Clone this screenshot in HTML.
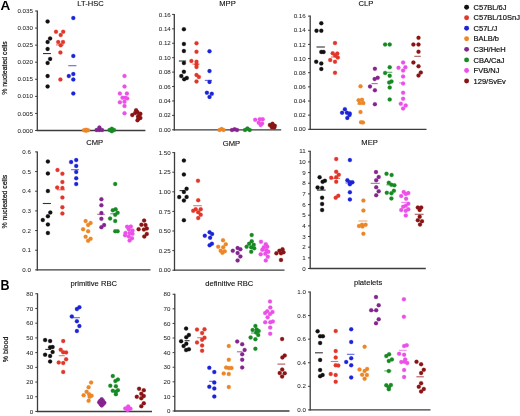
<!DOCTYPE html><html><head><meta charset="utf-8"><style>html,body{margin:0;padding:0;background:#fff;}svg{display:block;will-change:transform;}text{font-family:"Liberation Sans",sans-serif;}</style></head><body>
<svg width="520" height="416" viewBox="0 0 520 416">
<rect width="520" height="416" fill="#fff"/>
<text transform="translate(0.5,9.9) scale(1.08,1)" font-size="12.5" font-weight="bold" fill="#000">A</text>
<text transform="translate(0.5,289.8) scale(1.0,1.1)" font-size="12.5" font-weight="bold" fill="#000">B</text>
<text transform="translate(6.9,68) rotate(-90)" text-anchor="middle" font-size="6.9" fill="#111" stroke="#111" stroke-width="0.2">% nucleated cells</text>
<text transform="translate(6.9,201.7) rotate(-90)" text-anchor="middle" font-size="6.9" fill="#111" stroke="#111" stroke-width="0.2">% nucleated cells</text>
<text transform="translate(7.6,349.5) rotate(-90)" text-anchor="middle" font-size="7.1" fill="#111" stroke="#111" stroke-width="0.2">% blood</text>
<line x1="37.3" y1="10.5" x2="37.3" y2="131.1" stroke="#3c3c3c" stroke-width="1.3"/>
<line x1="36.699999999999996" y1="130.5" x2="145.4" y2="130.5" stroke="#3c3c3c" stroke-width="1.3"/>
<line x1="35.099999999999994" y1="130.50" x2="37.3" y2="130.50" stroke="#3c3c3c" stroke-width="1"/>
<text x="32.90" y="132.60" text-anchor="end" font-size="6.2" fill="#222" stroke="#222" stroke-width="0.03">0.000</text>
<line x1="35.099999999999994" y1="113.43" x2="37.3" y2="113.43" stroke="#3c3c3c" stroke-width="1"/>
<text x="32.90" y="115.53" text-anchor="end" font-size="6.2" fill="#222" stroke="#222" stroke-width="0.03">0.005</text>
<line x1="35.099999999999994" y1="96.36" x2="37.3" y2="96.36" stroke="#3c3c3c" stroke-width="1"/>
<text x="32.90" y="98.46" text-anchor="end" font-size="6.2" fill="#222" stroke="#222" stroke-width="0.03">0.010</text>
<line x1="35.099999999999994" y1="79.29" x2="37.3" y2="79.29" stroke="#3c3c3c" stroke-width="1"/>
<text x="32.90" y="81.39" text-anchor="end" font-size="6.2" fill="#222" stroke="#222" stroke-width="0.03">0.015</text>
<line x1="35.099999999999994" y1="62.21" x2="37.3" y2="62.21" stroke="#3c3c3c" stroke-width="1"/>
<text x="32.90" y="64.31" text-anchor="end" font-size="6.2" fill="#222" stroke="#222" stroke-width="0.03">0.020</text>
<line x1="35.099999999999994" y1="45.14" x2="37.3" y2="45.14" stroke="#3c3c3c" stroke-width="1"/>
<text x="32.90" y="47.24" text-anchor="end" font-size="6.2" fill="#222" stroke="#222" stroke-width="0.03">0.025</text>
<line x1="35.099999999999994" y1="28.07" x2="37.3" y2="28.07" stroke="#3c3c3c" stroke-width="1"/>
<text x="32.90" y="30.17" text-anchor="end" font-size="6.2" fill="#222" stroke="#222" stroke-width="0.03">0.030</text>
<line x1="35.099999999999994" y1="11.00" x2="37.3" y2="11.00" stroke="#3c3c3c" stroke-width="1"/>
<text x="32.90" y="13.10" text-anchor="end" font-size="6.2" fill="#222" stroke="#222" stroke-width="0.03">0.035</text>
<text x="90.5" y="6.0" text-anchor="middle" font-size="7.6" fill="#111" stroke="#111" stroke-width="0.12">LT-HSC</text>
<circle cx="47.6" cy="21.4" r="2.0" fill="#111111" stroke="#111111" stroke-width="0.8" stroke-opacity="0.3"/>
<circle cx="50.1" cy="38.45" r="2.0" fill="#111111" stroke="#111111" stroke-width="0.8" stroke-opacity="0.3"/>
<circle cx="47.6" cy="42" r="2.0" fill="#111111" stroke="#111111" stroke-width="0.8" stroke-opacity="0.3"/>
<circle cx="47.6" cy="48.9" r="2.0" fill="#111111" stroke="#111111" stroke-width="0.8" stroke-opacity="0.3"/>
<circle cx="50.1" cy="58.9" r="2.0" fill="#111111" stroke="#111111" stroke-width="0.8" stroke-opacity="0.3"/>
<circle cx="47.6" cy="62.9" r="2.0" fill="#111111" stroke="#111111" stroke-width="0.8" stroke-opacity="0.3"/>
<circle cx="47.6" cy="76.1" r="2.0" fill="#111111" stroke="#111111" stroke-width="0.8" stroke-opacity="0.3"/>
<circle cx="47.6" cy="86.4" r="2.0" fill="#111111" stroke="#111111" stroke-width="0.8" stroke-opacity="0.3"/>
<line x1="43" y1="53.55" x2="50.9" y2="53.55" stroke="#111111" stroke-width="1.1" stroke-opacity="0.85"/>
<circle cx="56" cy="31.7" r="2.0" fill="#e2362a" stroke="#e2362a" stroke-width="0.8" stroke-opacity="0.3"/>
<circle cx="63.2" cy="31.7" r="2.0" fill="#e2362a" stroke="#e2362a" stroke-width="0.8" stroke-opacity="0.3"/>
<circle cx="60.7" cy="35" r="2.0" fill="#e2362a" stroke="#e2362a" stroke-width="0.8" stroke-opacity="0.3"/>
<circle cx="58.2" cy="42" r="2.0" fill="#e2362a" stroke="#e2362a" stroke-width="0.8" stroke-opacity="0.3"/>
<circle cx="63" cy="42" r="2.0" fill="#e2362a" stroke="#e2362a" stroke-width="0.8" stroke-opacity="0.3"/>
<circle cx="60.7" cy="45.3" r="2.0" fill="#e2362a" stroke="#e2362a" stroke-width="0.8" stroke-opacity="0.3"/>
<circle cx="60.4" cy="52.45" r="2.0" fill="#e2362a" stroke="#e2362a" stroke-width="0.8" stroke-opacity="0.3"/>
<circle cx="60.4" cy="79.5" r="2.0" fill="#e2362a" stroke="#e2362a" stroke-width="0.8" stroke-opacity="0.3"/>
<line x1="56" y1="44.9" x2="64" y2="44.9" stroke="#e2362a" stroke-width="1.1" stroke-opacity="0.7"/>
<circle cx="73.3" cy="18.06" r="2.0" fill="#1c24d8" stroke="#1c24d8" stroke-width="0.8" stroke-opacity="0.3"/>
<circle cx="73.3" cy="55.9" r="2.0" fill="#1c24d8" stroke="#1c24d8" stroke-width="0.8" stroke-opacity="0.3"/>
<circle cx="73.3" cy="74.05" r="2.0" fill="#1c24d8" stroke="#1c24d8" stroke-width="0.8" stroke-opacity="0.3"/>
<circle cx="68.8" cy="76.1" r="2.0" fill="#1c24d8" stroke="#1c24d8" stroke-width="0.8" stroke-opacity="0.3"/>
<circle cx="73.3" cy="79.5" r="2.0" fill="#1c24d8" stroke="#1c24d8" stroke-width="0.8" stroke-opacity="0.3"/>
<circle cx="73.3" cy="93.4" r="2.0" fill="#1c24d8" stroke="#1c24d8" stroke-width="0.8" stroke-opacity="0.3"/>
<line x1="68.3" y1="65.7" x2="76.4" y2="65.7" stroke="#1c24d8" stroke-width="1.1" stroke-opacity="0.7"/>
<circle cx="84" cy="130.2" r="2.0" fill="#ec8626" stroke="#ec8626" stroke-width="0.8" stroke-opacity="0.3"/>
<circle cx="86" cy="129.7" r="2.0" fill="#ec8626" stroke="#ec8626" stroke-width="0.8" stroke-opacity="0.3"/>
<circle cx="86" cy="130.7" r="2.0" fill="#ec8626" stroke="#ec8626" stroke-width="0.8" stroke-opacity="0.3"/>
<circle cx="88" cy="130.2" r="2.0" fill="#ec8626" stroke="#ec8626" stroke-width="0.8" stroke-opacity="0.3"/>
<circle cx="96.6" cy="130" r="2.0" fill="#84248e" stroke="#84248e" stroke-width="0.8" stroke-opacity="0.3"/>
<circle cx="99.3" cy="130" r="2.0" fill="#84248e" stroke="#84248e" stroke-width="0.8" stroke-opacity="0.3"/>
<circle cx="102" cy="130" r="2.0" fill="#84248e" stroke="#84248e" stroke-width="0.8" stroke-opacity="0.3"/>
<circle cx="99.4" cy="127.6" r="2.0" fill="#84248e" stroke="#84248e" stroke-width="0.8" stroke-opacity="0.3"/>
<circle cx="109.5" cy="130" r="2.0" fill="#188a24" stroke="#188a24" stroke-width="0.8" stroke-opacity="0.3"/>
<circle cx="111.8" cy="128.8" r="2.0" fill="#188a24" stroke="#188a24" stroke-width="0.8" stroke-opacity="0.3"/>
<circle cx="114" cy="130" r="2.0" fill="#188a24" stroke="#188a24" stroke-width="0.8" stroke-opacity="0.3"/>
<circle cx="111.8" cy="131.2" r="2.0" fill="#188a24" stroke="#188a24" stroke-width="0.8" stroke-opacity="0.3"/>
<circle cx="124.5" cy="75.9" r="2.0" fill="#ec50e8" stroke="#ec50e8" stroke-width="0.8" stroke-opacity="0.3"/>
<circle cx="124.5" cy="86.5" r="2.0" fill="#ec50e8" stroke="#ec50e8" stroke-width="0.8" stroke-opacity="0.3"/>
<circle cx="119.9" cy="93.5" r="2.0" fill="#ec50e8" stroke="#ec50e8" stroke-width="0.8" stroke-opacity="0.3"/>
<circle cx="126.9" cy="93.5" r="2.0" fill="#ec50e8" stroke="#ec50e8" stroke-width="0.8" stroke-opacity="0.3"/>
<circle cx="122.5" cy="97.7" r="2.0" fill="#ec50e8" stroke="#ec50e8" stroke-width="0.8" stroke-opacity="0.3"/>
<circle cx="125.2" cy="97.7" r="2.0" fill="#ec50e8" stroke="#ec50e8" stroke-width="0.8" stroke-opacity="0.3"/>
<circle cx="127.2" cy="98.4" r="2.0" fill="#ec50e8" stroke="#ec50e8" stroke-width="0.8" stroke-opacity="0.3"/>
<circle cx="119.9" cy="102.3" r="2.0" fill="#ec50e8" stroke="#ec50e8" stroke-width="0.8" stroke-opacity="0.3"/>
<circle cx="124.5" cy="101.7" r="2.0" fill="#ec50e8" stroke="#ec50e8" stroke-width="0.8" stroke-opacity="0.3"/>
<circle cx="124.5" cy="105.9" r="2.0" fill="#ec50e8" stroke="#ec50e8" stroke-width="0.8" stroke-opacity="0.3"/>
<circle cx="124.5" cy="113.3" r="2.0" fill="#ec50e8" stroke="#ec50e8" stroke-width="0.8" stroke-opacity="0.3"/>
<circle cx="136.1" cy="110.25" r="2.0" fill="#8a1414" stroke="#8a1414" stroke-width="0.8" stroke-opacity="0.3"/>
<circle cx="132.25" cy="115.05" r="2.0" fill="#8a1414" stroke="#8a1414" stroke-width="0.8" stroke-opacity="0.3"/>
<circle cx="140.4" cy="113.85" r="2.0" fill="#8a1414" stroke="#8a1414" stroke-width="0.8" stroke-opacity="0.3"/>
<circle cx="135.1" cy="113.1" r="2.0" fill="#8a1414" stroke="#8a1414" stroke-width="0.8" stroke-opacity="0.3"/>
<circle cx="138" cy="116.5" r="2.0" fill="#8a1414" stroke="#8a1414" stroke-width="0.8" stroke-opacity="0.3"/>
<circle cx="140.4" cy="117.9" r="2.0" fill="#8a1414" stroke="#8a1414" stroke-width="0.8" stroke-opacity="0.3"/>
<circle cx="137.5" cy="120.3" r="2.0" fill="#8a1414" stroke="#8a1414" stroke-width="0.8" stroke-opacity="0.3"/>
<circle cx="137.5" cy="112.3" r="2.0" fill="#8a1414" stroke="#8a1414" stroke-width="0.8" stroke-opacity="0.3"/>
<circle cx="139.2" cy="115.5" r="2.0" fill="#8a1414" stroke="#8a1414" stroke-width="0.8" stroke-opacity="0.3"/>
<circle cx="138.6" cy="118.6" r="2.0" fill="#8a1414" stroke="#8a1414" stroke-width="0.8" stroke-opacity="0.3"/>
<line x1="174.3" y1="13.9" x2="174.3" y2="130.4" stroke="#3c3c3c" stroke-width="1.3"/>
<line x1="173.70000000000002" y1="129.8" x2="281.2" y2="129.8" stroke="#3c3c3c" stroke-width="1.3"/>
<line x1="172.10000000000002" y1="129.80" x2="174.3" y2="129.80" stroke="#3c3c3c" stroke-width="1"/>
<text x="170.80" y="131.90" text-anchor="end" font-size="6.2" fill="#222" stroke="#222" stroke-width="0.03">0.00</text>
<line x1="172.10000000000002" y1="115.38" x2="174.3" y2="115.38" stroke="#3c3c3c" stroke-width="1"/>
<text x="170.80" y="117.48" text-anchor="end" font-size="6.2" fill="#222" stroke="#222" stroke-width="0.03">0.02</text>
<line x1="172.10000000000002" y1="100.95" x2="174.3" y2="100.95" stroke="#3c3c3c" stroke-width="1"/>
<text x="170.80" y="103.05" text-anchor="end" font-size="6.2" fill="#222" stroke="#222" stroke-width="0.03">0.04</text>
<line x1="172.10000000000002" y1="86.53" x2="174.3" y2="86.53" stroke="#3c3c3c" stroke-width="1"/>
<text x="170.80" y="88.62" text-anchor="end" font-size="6.2" fill="#222" stroke="#222" stroke-width="0.03">0.06</text>
<line x1="172.10000000000002" y1="72.10" x2="174.3" y2="72.10" stroke="#3c3c3c" stroke-width="1"/>
<text x="170.80" y="74.20" text-anchor="end" font-size="6.2" fill="#222" stroke="#222" stroke-width="0.03">0.08</text>
<line x1="172.10000000000002" y1="57.68" x2="174.3" y2="57.68" stroke="#3c3c3c" stroke-width="1"/>
<text x="170.80" y="59.78" text-anchor="end" font-size="6.2" fill="#222" stroke="#222" stroke-width="0.03">0.10</text>
<line x1="172.10000000000002" y1="43.25" x2="174.3" y2="43.25" stroke="#3c3c3c" stroke-width="1"/>
<text x="170.80" y="45.35" text-anchor="end" font-size="6.2" fill="#222" stroke="#222" stroke-width="0.03">0.12</text>
<line x1="172.10000000000002" y1="28.83" x2="174.3" y2="28.83" stroke="#3c3c3c" stroke-width="1"/>
<text x="170.80" y="30.93" text-anchor="end" font-size="6.2" fill="#222" stroke="#222" stroke-width="0.03">0.14</text>
<line x1="172.10000000000002" y1="14.40" x2="174.3" y2="14.40" stroke="#3c3c3c" stroke-width="1"/>
<text x="170.80" y="16.50" text-anchor="end" font-size="6.2" fill="#222" stroke="#222" stroke-width="0.03">0.16</text>
<text x="227.5" y="6.3" text-anchor="middle" font-size="7.6" fill="#111" stroke="#111" stroke-width="0.12">MPP</text>
<circle cx="183.9" cy="29.2" r="2.0" fill="#111111" stroke="#111111" stroke-width="0.8" stroke-opacity="0.3"/>
<circle cx="183.9" cy="43.9" r="2.0" fill="#111111" stroke="#111111" stroke-width="0.8" stroke-opacity="0.3"/>
<circle cx="183.9" cy="51.1" r="2.0" fill="#111111" stroke="#111111" stroke-width="0.8" stroke-opacity="0.3"/>
<circle cx="183.9" cy="63.1" r="2.0" fill="#111111" stroke="#111111" stroke-width="0.8" stroke-opacity="0.3"/>
<circle cx="183.9" cy="71.8" r="2.0" fill="#111111" stroke="#111111" stroke-width="0.8" stroke-opacity="0.3"/>
<circle cx="181.3" cy="76.1" r="2.0" fill="#111111" stroke="#111111" stroke-width="0.8" stroke-opacity="0.3"/>
<circle cx="184.2" cy="79.2" r="2.0" fill="#111111" stroke="#111111" stroke-width="0.8" stroke-opacity="0.3"/>
<circle cx="186.8" cy="78" r="2.0" fill="#111111" stroke="#111111" stroke-width="0.8" stroke-opacity="0.3"/>
<line x1="178.9" y1="61" x2="186.1" y2="61" stroke="#111111" stroke-width="1.1" stroke-opacity="0.85"/>
<circle cx="196.5" cy="43.2" r="2.0" fill="#e2362a" stroke="#e2362a" stroke-width="0.8" stroke-opacity="0.3"/>
<circle cx="196.5" cy="51.8" r="2.0" fill="#e2362a" stroke="#e2362a" stroke-width="0.8" stroke-opacity="0.3"/>
<circle cx="191.4" cy="60.9" r="2.0" fill="#e2362a" stroke="#e2362a" stroke-width="0.8" stroke-opacity="0.3"/>
<circle cx="196.5" cy="61.7" r="2.0" fill="#e2362a" stroke="#e2362a" stroke-width="0.8" stroke-opacity="0.3"/>
<circle cx="196.5" cy="64.4" r="2.0" fill="#e2362a" stroke="#e2362a" stroke-width="0.8" stroke-opacity="0.3"/>
<circle cx="196.5" cy="67" r="2.0" fill="#e2362a" stroke="#e2362a" stroke-width="0.8" stroke-opacity="0.3"/>
<circle cx="196.5" cy="75" r="2.0" fill="#e2362a" stroke="#e2362a" stroke-width="0.8" stroke-opacity="0.3"/>
<circle cx="198.9" cy="76.9" r="2.0" fill="#e2362a" stroke="#e2362a" stroke-width="0.8" stroke-opacity="0.3"/>
<circle cx="196.5" cy="81.4" r="2.0" fill="#e2362a" stroke="#e2362a" stroke-width="0.8" stroke-opacity="0.3"/>
<line x1="192.3" y1="64.1" x2="199.6" y2="64.1" stroke="#e2362a" stroke-width="1.1" stroke-opacity="0.7"/>
<circle cx="209.5" cy="51.3" r="2.0" fill="#1c24d8" stroke="#1c24d8" stroke-width="0.8" stroke-opacity="0.3"/>
<circle cx="209.5" cy="71.1" r="2.0" fill="#1c24d8" stroke="#1c24d8" stroke-width="0.8" stroke-opacity="0.3"/>
<circle cx="209.5" cy="81.9" r="2.0" fill="#1c24d8" stroke="#1c24d8" stroke-width="0.8" stroke-opacity="0.3"/>
<circle cx="206.9" cy="92.65" r="2.0" fill="#1c24d8" stroke="#1c24d8" stroke-width="0.8" stroke-opacity="0.3"/>
<circle cx="211.8" cy="93.8" r="2.0" fill="#1c24d8" stroke="#1c24d8" stroke-width="0.8" stroke-opacity="0.3"/>
<circle cx="209.5" cy="96.9" r="2.0" fill="#1c24d8" stroke="#1c24d8" stroke-width="0.8" stroke-opacity="0.3"/>
<line x1="204.8" y1="80.4" x2="212" y2="80.4" stroke="#1c24d8" stroke-width="1.1" stroke-opacity="0.7"/>
<circle cx="219.5" cy="130" r="2.0" fill="#ec8626" stroke="#ec8626" stroke-width="0.8" stroke-opacity="0.3"/>
<circle cx="221.6" cy="129" r="2.0" fill="#ec8626" stroke="#ec8626" stroke-width="0.8" stroke-opacity="0.3"/>
<circle cx="223.5" cy="130" r="2.0" fill="#ec8626" stroke="#ec8626" stroke-width="0.8" stroke-opacity="0.3"/>
<circle cx="232" cy="130" r="2.0" fill="#84248e" stroke="#84248e" stroke-width="0.8" stroke-opacity="0.3"/>
<circle cx="234.6" cy="129.3" r="2.0" fill="#84248e" stroke="#84248e" stroke-width="0.8" stroke-opacity="0.3"/>
<circle cx="237" cy="130" r="2.0" fill="#84248e" stroke="#84248e" stroke-width="0.8" stroke-opacity="0.3"/>
<circle cx="245" cy="130" r="2.0" fill="#188a24" stroke="#188a24" stroke-width="0.8" stroke-opacity="0.3"/>
<circle cx="247.4" cy="128.5" r="2.0" fill="#188a24" stroke="#188a24" stroke-width="0.8" stroke-opacity="0.3"/>
<circle cx="249.7" cy="130" r="2.0" fill="#188a24" stroke="#188a24" stroke-width="0.8" stroke-opacity="0.3"/>
<circle cx="255.2" cy="119.8" r="2.0" fill="#ec50e8" stroke="#ec50e8" stroke-width="0.8" stroke-opacity="0.3"/>
<circle cx="259.8" cy="119.2" r="2.0" fill="#ec50e8" stroke="#ec50e8" stroke-width="0.8" stroke-opacity="0.3"/>
<circle cx="262.7" cy="119.2" r="2.0" fill="#ec50e8" stroke="#ec50e8" stroke-width="0.8" stroke-opacity="0.3"/>
<circle cx="258.7" cy="122.7" r="2.0" fill="#ec50e8" stroke="#ec50e8" stroke-width="0.8" stroke-opacity="0.3"/>
<circle cx="262.1" cy="123.5" r="2.0" fill="#ec50e8" stroke="#ec50e8" stroke-width="0.8" stroke-opacity="0.3"/>
<circle cx="260.7" cy="125" r="2.0" fill="#ec50e8" stroke="#ec50e8" stroke-width="0.8" stroke-opacity="0.3"/>
<circle cx="269.9" cy="125" r="2.0" fill="#8a1414" stroke="#8a1414" stroke-width="0.8" stroke-opacity="0.3"/>
<circle cx="272.5" cy="123.8" r="2.0" fill="#8a1414" stroke="#8a1414" stroke-width="0.8" stroke-opacity="0.3"/>
<circle cx="274.8" cy="125.8" r="2.0" fill="#8a1414" stroke="#8a1414" stroke-width="0.8" stroke-opacity="0.3"/>
<circle cx="271.9" cy="127.3" r="2.0" fill="#8a1414" stroke="#8a1414" stroke-width="0.8" stroke-opacity="0.3"/>
<circle cx="274.2" cy="127.6" r="2.0" fill="#8a1414" stroke="#8a1414" stroke-width="0.8" stroke-opacity="0.3"/>
<line x1="310.2" y1="15.600000000000001" x2="310.2" y2="129.9" stroke="#3c3c3c" stroke-width="1.3"/>
<line x1="309.59999999999997" y1="129.3" x2="426.5" y2="129.3" stroke="#3c3c3c" stroke-width="1.3"/>
<line x1="308.0" y1="129.30" x2="310.2" y2="129.30" stroke="#3c3c3c" stroke-width="1"/>
<text x="305.70" y="131.40" text-anchor="end" font-size="6.2" fill="#222" stroke="#222" stroke-width="0.03">0.00</text>
<line x1="308.0" y1="115.15" x2="310.2" y2="115.15" stroke="#3c3c3c" stroke-width="1"/>
<text x="305.70" y="117.25" text-anchor="end" font-size="6.2" fill="#222" stroke="#222" stroke-width="0.03">0.02</text>
<line x1="308.0" y1="101.00" x2="310.2" y2="101.00" stroke="#3c3c3c" stroke-width="1"/>
<text x="305.70" y="103.10" text-anchor="end" font-size="6.2" fill="#222" stroke="#222" stroke-width="0.03">0.04</text>
<line x1="308.0" y1="86.85" x2="310.2" y2="86.85" stroke="#3c3c3c" stroke-width="1"/>
<text x="305.70" y="88.95" text-anchor="end" font-size="6.2" fill="#222" stroke="#222" stroke-width="0.03">0.06</text>
<line x1="308.0" y1="72.70" x2="310.2" y2="72.70" stroke="#3c3c3c" stroke-width="1"/>
<text x="305.70" y="74.80" text-anchor="end" font-size="6.2" fill="#222" stroke="#222" stroke-width="0.03">0.08</text>
<line x1="308.0" y1="58.55" x2="310.2" y2="58.55" stroke="#3c3c3c" stroke-width="1"/>
<text x="305.70" y="60.65" text-anchor="end" font-size="6.2" fill="#222" stroke="#222" stroke-width="0.03">0.10</text>
<line x1="308.0" y1="44.40" x2="310.2" y2="44.40" stroke="#3c3c3c" stroke-width="1"/>
<text x="305.70" y="46.50" text-anchor="end" font-size="6.2" fill="#222" stroke="#222" stroke-width="0.03">0.12</text>
<line x1="308.0" y1="30.25" x2="310.2" y2="30.25" stroke="#3c3c3c" stroke-width="1"/>
<text x="305.70" y="32.35" text-anchor="end" font-size="6.2" fill="#222" stroke="#222" stroke-width="0.03">0.14</text>
<line x1="308.0" y1="16.10" x2="310.2" y2="16.10" stroke="#3c3c3c" stroke-width="1"/>
<text x="305.70" y="18.20" text-anchor="end" font-size="6.2" fill="#222" stroke="#222" stroke-width="0.03">0.16</text>
<text x="366" y="6.3" text-anchor="middle" font-size="7.6" fill="#111" stroke="#111" stroke-width="0.12">CLP</text>
<circle cx="321.3" cy="23.3" r="2.0" fill="#111111" stroke="#111111" stroke-width="0.8" stroke-opacity="0.3"/>
<circle cx="316.5" cy="30.7" r="2.0" fill="#111111" stroke="#111111" stroke-width="0.8" stroke-opacity="0.3"/>
<circle cx="321.3" cy="30.7" r="2.0" fill="#111111" stroke="#111111" stroke-width="0.8" stroke-opacity="0.3"/>
<circle cx="321.3" cy="51.9" r="2.0" fill="#111111" stroke="#111111" stroke-width="0.8" stroke-opacity="0.3"/>
<circle cx="323.6" cy="51.9" r="2.0" fill="#111111" stroke="#111111" stroke-width="0.8" stroke-opacity="0.3"/>
<circle cx="316.2" cy="61.7" r="2.0" fill="#111111" stroke="#111111" stroke-width="0.8" stroke-opacity="0.3"/>
<circle cx="321.3" cy="63.4" r="2.0" fill="#111111" stroke="#111111" stroke-width="0.8" stroke-opacity="0.3"/>
<circle cx="321.3" cy="69" r="2.0" fill="#111111" stroke="#111111" stroke-width="0.8" stroke-opacity="0.3"/>
<line x1="316.5" y1="47" x2="324.9" y2="47" stroke="#111111" stroke-width="1.1" stroke-opacity="0.85"/>
<circle cx="335" cy="43.1" r="2.0" fill="#e2362a" stroke="#e2362a" stroke-width="0.8" stroke-opacity="0.3"/>
<circle cx="332.7" cy="53.3" r="2.0" fill="#e2362a" stroke="#e2362a" stroke-width="0.8" stroke-opacity="0.3"/>
<circle cx="337.3" cy="53.6" r="2.0" fill="#e2362a" stroke="#e2362a" stroke-width="0.8" stroke-opacity="0.3"/>
<circle cx="335.2" cy="55.6" r="2.0" fill="#e2362a" stroke="#e2362a" stroke-width="0.8" stroke-opacity="0.3"/>
<circle cx="337.8" cy="57.6" r="2.0" fill="#e2362a" stroke="#e2362a" stroke-width="0.8" stroke-opacity="0.3"/>
<circle cx="330.2" cy="60.1" r="2.0" fill="#e2362a" stroke="#e2362a" stroke-width="0.8" stroke-opacity="0.3"/>
<circle cx="335" cy="61.7" r="2.0" fill="#e2362a" stroke="#e2362a" stroke-width="0.8" stroke-opacity="0.3"/>
<circle cx="335" cy="72.8" r="2.0" fill="#e2362a" stroke="#e2362a" stroke-width="0.8" stroke-opacity="0.3"/>
<line x1="331" y1="57" x2="339" y2="57" stroke="#e2362a" stroke-width="1.1" stroke-opacity="0.7"/>
<circle cx="344.9" cy="109.2" r="2.0" fill="#1c24d8" stroke="#1c24d8" stroke-width="0.8" stroke-opacity="0.3"/>
<circle cx="342.1" cy="112.7" r="2.0" fill="#1c24d8" stroke="#1c24d8" stroke-width="0.8" stroke-opacity="0.3"/>
<circle cx="346.9" cy="112.7" r="2.0" fill="#1c24d8" stroke="#1c24d8" stroke-width="0.8" stroke-opacity="0.3"/>
<circle cx="349.7" cy="113.4" r="2.0" fill="#1c24d8" stroke="#1c24d8" stroke-width="0.8" stroke-opacity="0.3"/>
<circle cx="349.5" cy="114.9" r="2.0" fill="#1c24d8" stroke="#1c24d8" stroke-width="0.8" stroke-opacity="0.3"/>
<circle cx="347.3" cy="117.9" r="2.0" fill="#1c24d8" stroke="#1c24d8" stroke-width="0.8" stroke-opacity="0.3"/>
<circle cx="360.5" cy="86.3" r="2.0" fill="#ec8626" stroke="#ec8626" stroke-width="0.8" stroke-opacity="0.3"/>
<circle cx="358.6" cy="100.2" r="2.0" fill="#ec8626" stroke="#ec8626" stroke-width="0.8" stroke-opacity="0.3"/>
<circle cx="362" cy="99.7" r="2.0" fill="#ec8626" stroke="#ec8626" stroke-width="0.8" stroke-opacity="0.3"/>
<circle cx="359.9" cy="103" r="2.0" fill="#ec8626" stroke="#ec8626" stroke-width="0.8" stroke-opacity="0.3"/>
<circle cx="363.3" cy="103" r="2.0" fill="#ec8626" stroke="#ec8626" stroke-width="0.8" stroke-opacity="0.3"/>
<circle cx="360.5" cy="112.1" r="2.0" fill="#ec8626" stroke="#ec8626" stroke-width="0.8" stroke-opacity="0.3"/>
<circle cx="361" cy="122.2" r="2.0" fill="#ec8626" stroke="#ec8626" stroke-width="0.8" stroke-opacity="0.3"/>
<circle cx="363" cy="122.5" r="2.0" fill="#ec8626" stroke="#ec8626" stroke-width="0.8" stroke-opacity="0.3"/>
<line x1="357" y1="104" x2="365" y2="104" stroke="#ec8626" stroke-width="1.1" stroke-opacity="0.7"/>
<circle cx="374.9" cy="68.8" r="2.0" fill="#84248e" stroke="#84248e" stroke-width="0.8" stroke-opacity="0.3"/>
<circle cx="377.7" cy="77.8" r="2.0" fill="#84248e" stroke="#84248e" stroke-width="0.8" stroke-opacity="0.3"/>
<circle cx="374.6" cy="79.1" r="2.0" fill="#84248e" stroke="#84248e" stroke-width="0.8" stroke-opacity="0.3"/>
<circle cx="370" cy="86.5" r="2.0" fill="#84248e" stroke="#84248e" stroke-width="0.8" stroke-opacity="0.3"/>
<circle cx="374.9" cy="90.3" r="2.0" fill="#84248e" stroke="#84248e" stroke-width="0.8" stroke-opacity="0.3"/>
<circle cx="374.9" cy="104.2" r="2.0" fill="#84248e" stroke="#84248e" stroke-width="0.8" stroke-opacity="0.3"/>
<line x1="371.5" y1="83.6" x2="377.7" y2="83.6" stroke="#84248e" stroke-width="1.1" stroke-opacity="0.7"/>
<circle cx="385.1" cy="44.5" r="2.0" fill="#188a24" stroke="#188a24" stroke-width="0.8" stroke-opacity="0.3"/>
<circle cx="389.7" cy="44.5" r="2.0" fill="#188a24" stroke="#188a24" stroke-width="0.8" stroke-opacity="0.3"/>
<circle cx="389.7" cy="67.2" r="2.0" fill="#188a24" stroke="#188a24" stroke-width="0.8" stroke-opacity="0.3"/>
<circle cx="385.1" cy="72.9" r="2.0" fill="#188a24" stroke="#188a24" stroke-width="0.8" stroke-opacity="0.3"/>
<circle cx="389.7" cy="75.7" r="2.0" fill="#188a24" stroke="#188a24" stroke-width="0.8" stroke-opacity="0.3"/>
<circle cx="391.5" cy="81.4" r="2.0" fill="#188a24" stroke="#188a24" stroke-width="0.8" stroke-opacity="0.3"/>
<circle cx="389.2" cy="82.5" r="2.0" fill="#188a24" stroke="#188a24" stroke-width="0.8" stroke-opacity="0.3"/>
<circle cx="389.7" cy="87.5" r="2.0" fill="#188a24" stroke="#188a24" stroke-width="0.8" stroke-opacity="0.3"/>
<circle cx="389.7" cy="99.4" r="2.0" fill="#188a24" stroke="#188a24" stroke-width="0.8" stroke-opacity="0.3"/>
<line x1="386.9" y1="72.3" x2="392.3" y2="72.3" stroke="#188a24" stroke-width="1.1" stroke-opacity="0.7"/>
<circle cx="403.1" cy="62.5" r="2.0" fill="#ec50e8" stroke="#ec50e8" stroke-width="0.8" stroke-opacity="0.3"/>
<circle cx="398.5" cy="67.8" r="2.0" fill="#ec50e8" stroke="#ec50e8" stroke-width="0.8" stroke-opacity="0.3"/>
<circle cx="405.4" cy="67.2" r="2.0" fill="#ec50e8" stroke="#ec50e8" stroke-width="0.8" stroke-opacity="0.3"/>
<circle cx="403.1" cy="70.6" r="2.0" fill="#ec50e8" stroke="#ec50e8" stroke-width="0.8" stroke-opacity="0.3"/>
<circle cx="403.1" cy="76.5" r="2.0" fill="#ec50e8" stroke="#ec50e8" stroke-width="0.8" stroke-opacity="0.3"/>
<circle cx="403.1" cy="83.4" r="2.0" fill="#ec50e8" stroke="#ec50e8" stroke-width="0.8" stroke-opacity="0.3"/>
<circle cx="403.1" cy="92.7" r="2.0" fill="#ec50e8" stroke="#ec50e8" stroke-width="0.8" stroke-opacity="0.3"/>
<circle cx="403.1" cy="98.8" r="2.0" fill="#ec50e8" stroke="#ec50e8" stroke-width="0.8" stroke-opacity="0.3"/>
<circle cx="400.8" cy="103.8" r="2.0" fill="#ec50e8" stroke="#ec50e8" stroke-width="0.8" stroke-opacity="0.3"/>
<circle cx="405.7" cy="105.4" r="2.0" fill="#ec50e8" stroke="#ec50e8" stroke-width="0.8" stroke-opacity="0.3"/>
<circle cx="403.1" cy="108.5" r="2.0" fill="#ec50e8" stroke="#ec50e8" stroke-width="0.8" stroke-opacity="0.3"/>
<line x1="399" y1="82.9" x2="403" y2="82.9" stroke="#ec50e8" stroke-width="1.1" stroke-opacity="0.7"/>
<circle cx="418.5" cy="37.8" r="2.0" fill="#8a1414" stroke="#8a1414" stroke-width="0.8" stroke-opacity="0.3"/>
<circle cx="413.4" cy="44.5" r="2.0" fill="#8a1414" stroke="#8a1414" stroke-width="0.8" stroke-opacity="0.3"/>
<circle cx="418.5" cy="44.5" r="2.0" fill="#8a1414" stroke="#8a1414" stroke-width="0.8" stroke-opacity="0.3"/>
<circle cx="418.5" cy="51.7" r="2.0" fill="#8a1414" stroke="#8a1414" stroke-width="0.8" stroke-opacity="0.3"/>
<circle cx="413.4" cy="62.5" r="2.0" fill="#8a1414" stroke="#8a1414" stroke-width="0.8" stroke-opacity="0.3"/>
<circle cx="418.5" cy="66.3" r="2.0" fill="#8a1414" stroke="#8a1414" stroke-width="0.8" stroke-opacity="0.3"/>
<circle cx="420.8" cy="72.5" r="2.0" fill="#8a1414" stroke="#8a1414" stroke-width="0.8" stroke-opacity="0.3"/>
<circle cx="418.5" cy="75.5" r="2.0" fill="#8a1414" stroke="#8a1414" stroke-width="0.8" stroke-opacity="0.3"/>
<line x1="414.3" y1="56.3" x2="420.8" y2="56.3" stroke="#8a1414" stroke-width="1.1" stroke-opacity="0.7"/>
<line x1="37.3" y1="151.4" x2="37.3" y2="270.5" stroke="#3c3c3c" stroke-width="1.3"/>
<line x1="36.699999999999996" y1="269.9" x2="150.5" y2="269.9" stroke="#3c3c3c" stroke-width="1.3"/>
<line x1="35.099999999999994" y1="269.90" x2="37.3" y2="269.90" stroke="#3c3c3c" stroke-width="1"/>
<text x="30.90" y="272.00" text-anchor="end" font-size="6.2" fill="#222" stroke="#222" stroke-width="0.03">0.0</text>
<line x1="35.099999999999994" y1="250.23" x2="37.3" y2="250.23" stroke="#3c3c3c" stroke-width="1"/>
<text x="30.90" y="252.33" text-anchor="end" font-size="6.2" fill="#222" stroke="#222" stroke-width="0.03">0.1</text>
<line x1="35.099999999999994" y1="230.57" x2="37.3" y2="230.57" stroke="#3c3c3c" stroke-width="1"/>
<text x="30.90" y="232.67" text-anchor="end" font-size="6.2" fill="#222" stroke="#222" stroke-width="0.03">0.2</text>
<line x1="35.099999999999994" y1="210.90" x2="37.3" y2="210.90" stroke="#3c3c3c" stroke-width="1"/>
<text x="30.90" y="213.00" text-anchor="end" font-size="6.2" fill="#222" stroke="#222" stroke-width="0.03">0.3</text>
<line x1="35.099999999999994" y1="191.23" x2="37.3" y2="191.23" stroke="#3c3c3c" stroke-width="1"/>
<text x="30.90" y="193.33" text-anchor="end" font-size="6.2" fill="#222" stroke="#222" stroke-width="0.03">0.4</text>
<line x1="35.099999999999994" y1="171.57" x2="37.3" y2="171.57" stroke="#3c3c3c" stroke-width="1"/>
<text x="30.90" y="173.67" text-anchor="end" font-size="6.2" fill="#222" stroke="#222" stroke-width="0.03">0.5</text>
<line x1="35.099999999999994" y1="151.90" x2="37.3" y2="151.90" stroke="#3c3c3c" stroke-width="1"/>
<text x="30.90" y="154.00" text-anchor="end" font-size="6.2" fill="#222" stroke="#222" stroke-width="0.03">0.6</text>
<text x="94.6" y="145.3" text-anchor="middle" font-size="7.6" fill="#111" stroke="#111" stroke-width="0.12">CMP</text>
<circle cx="47.9" cy="161.6" r="2.0" fill="#111111" stroke="#111111" stroke-width="0.8" stroke-opacity="0.3"/>
<circle cx="47.9" cy="173.4" r="2.0" fill="#111111" stroke="#111111" stroke-width="0.8" stroke-opacity="0.3"/>
<circle cx="47.9" cy="191.1" r="2.0" fill="#111111" stroke="#111111" stroke-width="0.8" stroke-opacity="0.3"/>
<circle cx="50.3" cy="212.5" r="2.0" fill="#111111" stroke="#111111" stroke-width="0.8" stroke-opacity="0.3"/>
<circle cx="47.9" cy="216.3" r="2.0" fill="#111111" stroke="#111111" stroke-width="0.8" stroke-opacity="0.3"/>
<circle cx="42.8" cy="220" r="2.0" fill="#111111" stroke="#111111" stroke-width="0.8" stroke-opacity="0.3"/>
<circle cx="47.9" cy="224.4" r="2.0" fill="#111111" stroke="#111111" stroke-width="0.8" stroke-opacity="0.3"/>
<circle cx="47.9" cy="233" r="2.0" fill="#111111" stroke="#111111" stroke-width="0.8" stroke-opacity="0.3"/>
<line x1="42.8" y1="203.5" x2="50.9" y2="203.5" stroke="#111111" stroke-width="1.1" stroke-opacity="0.85"/>
<circle cx="57.5" cy="170" r="2.0" fill="#e2362a" stroke="#e2362a" stroke-width="0.8" stroke-opacity="0.3"/>
<circle cx="62.4" cy="173.7" r="2.0" fill="#e2362a" stroke="#e2362a" stroke-width="0.8" stroke-opacity="0.3"/>
<circle cx="62.4" cy="182" r="2.0" fill="#e2362a" stroke="#e2362a" stroke-width="0.8" stroke-opacity="0.3"/>
<circle cx="57.2" cy="187.6" r="2.0" fill="#e2362a" stroke="#e2362a" stroke-width="0.8" stroke-opacity="0.3"/>
<circle cx="62.4" cy="188" r="2.0" fill="#e2362a" stroke="#e2362a" stroke-width="0.8" stroke-opacity="0.3"/>
<circle cx="62.4" cy="197.6" r="2.0" fill="#e2362a" stroke="#e2362a" stroke-width="0.8" stroke-opacity="0.3"/>
<circle cx="62.4" cy="207.2" r="2.0" fill="#e2362a" stroke="#e2362a" stroke-width="0.8" stroke-opacity="0.3"/>
<circle cx="62.4" cy="213.5" r="2.0" fill="#e2362a" stroke="#e2362a" stroke-width="0.8" stroke-opacity="0.3"/>
<line x1="57" y1="189.8" x2="65" y2="189.8" stroke="#e2362a" stroke-width="1.1" stroke-opacity="0.7"/>
<circle cx="71.1" cy="162.1" r="2.0" fill="#1c24d8" stroke="#1c24d8" stroke-width="0.8" stroke-opacity="0.3"/>
<circle cx="76.2" cy="160.1" r="2.0" fill="#1c24d8" stroke="#1c24d8" stroke-width="0.8" stroke-opacity="0.3"/>
<circle cx="76.2" cy="165.9" r="2.0" fill="#1c24d8" stroke="#1c24d8" stroke-width="0.8" stroke-opacity="0.3"/>
<circle cx="76.2" cy="172" r="2.0" fill="#1c24d8" stroke="#1c24d8" stroke-width="0.8" stroke-opacity="0.3"/>
<circle cx="76.2" cy="178.3" r="2.0" fill="#1c24d8" stroke="#1c24d8" stroke-width="0.8" stroke-opacity="0.3"/>
<circle cx="76.2" cy="184.1" r="2.0" fill="#1c24d8" stroke="#1c24d8" stroke-width="0.8" stroke-opacity="0.3"/>
<line x1="71.1" y1="169.7" x2="78.9" y2="169.7" stroke="#1c24d8" stroke-width="1.1" stroke-opacity="0.7"/>
<circle cx="85.6" cy="221.1" r="2.0" fill="#ec8626" stroke="#ec8626" stroke-width="0.8" stroke-opacity="0.3"/>
<circle cx="90.6" cy="222.9" r="2.0" fill="#ec8626" stroke="#ec8626" stroke-width="0.8" stroke-opacity="0.3"/>
<circle cx="88.1" cy="224.9" r="2.0" fill="#ec8626" stroke="#ec8626" stroke-width="0.8" stroke-opacity="0.3"/>
<circle cx="83.1" cy="229.2" r="2.0" fill="#ec8626" stroke="#ec8626" stroke-width="0.8" stroke-opacity="0.3"/>
<circle cx="88.1" cy="231.2" r="2.0" fill="#ec8626" stroke="#ec8626" stroke-width="0.8" stroke-opacity="0.3"/>
<circle cx="85.6" cy="236.7" r="2.0" fill="#ec8626" stroke="#ec8626" stroke-width="0.8" stroke-opacity="0.3"/>
<circle cx="90.6" cy="238.8" r="2.0" fill="#ec8626" stroke="#ec8626" stroke-width="0.8" stroke-opacity="0.3"/>
<circle cx="88.1" cy="240.8" r="2.0" fill="#ec8626" stroke="#ec8626" stroke-width="0.8" stroke-opacity="0.3"/>
<circle cx="101.4" cy="199.2" r="2.0" fill="#84248e" stroke="#84248e" stroke-width="0.8" stroke-opacity="0.3"/>
<circle cx="101.4" cy="205.3" r="2.0" fill="#84248e" stroke="#84248e" stroke-width="0.8" stroke-opacity="0.3"/>
<circle cx="101.4" cy="213.1" r="2.0" fill="#84248e" stroke="#84248e" stroke-width="0.8" stroke-opacity="0.3"/>
<circle cx="101.4" cy="218.8" r="2.0" fill="#84248e" stroke="#84248e" stroke-width="0.8" stroke-opacity="0.3"/>
<circle cx="104.1" cy="225.1" r="2.0" fill="#84248e" stroke="#84248e" stroke-width="0.8" stroke-opacity="0.3"/>
<circle cx="101.4" cy="227.2" r="2.0" fill="#84248e" stroke="#84248e" stroke-width="0.8" stroke-opacity="0.3"/>
<line x1="97.2" y1="214.3" x2="104.8" y2="214.3" stroke="#84248e" stroke-width="1.1" stroke-opacity="0.7"/>
<circle cx="115.2" cy="184" r="2.0" fill="#188a24" stroke="#188a24" stroke-width="0.8" stroke-opacity="0.3"/>
<circle cx="115.6" cy="209.3" r="2.0" fill="#188a24" stroke="#188a24" stroke-width="0.8" stroke-opacity="0.3"/>
<circle cx="112.8" cy="210.3" r="2.0" fill="#188a24" stroke="#188a24" stroke-width="0.8" stroke-opacity="0.3"/>
<circle cx="117.6" cy="212.8" r="2.0" fill="#188a24" stroke="#188a24" stroke-width="0.8" stroke-opacity="0.3"/>
<circle cx="115.2" cy="214.8" r="2.0" fill="#188a24" stroke="#188a24" stroke-width="0.8" stroke-opacity="0.3"/>
<circle cx="110.1" cy="218.6" r="2.0" fill="#188a24" stroke="#188a24" stroke-width="0.8" stroke-opacity="0.3"/>
<circle cx="115.2" cy="221.1" r="2.0" fill="#188a24" stroke="#188a24" stroke-width="0.8" stroke-opacity="0.3"/>
<circle cx="115.2" cy="231.2" r="2.0" fill="#188a24" stroke="#188a24" stroke-width="0.8" stroke-opacity="0.3"/>
<circle cx="117.6" cy="231.2" r="2.0" fill="#188a24" stroke="#188a24" stroke-width="0.8" stroke-opacity="0.3"/>
<line x1="110.3" y1="213.8" x2="116.4" y2="213.8" stroke="#188a24" stroke-width="1.1" stroke-opacity="0.7"/>
<circle cx="127.1" cy="226.7" r="2.0" fill="#ec50e8" stroke="#ec50e8" stroke-width="0.8" stroke-opacity="0.3"/>
<circle cx="130.8" cy="226.6" r="2.0" fill="#ec50e8" stroke="#ec50e8" stroke-width="0.8" stroke-opacity="0.3"/>
<circle cx="128.8" cy="229.2" r="2.0" fill="#ec50e8" stroke="#ec50e8" stroke-width="0.8" stroke-opacity="0.3"/>
<circle cx="132.5" cy="230.4" r="2.0" fill="#ec50e8" stroke="#ec50e8" stroke-width="0.8" stroke-opacity="0.3"/>
<circle cx="125.5" cy="232.9" r="2.0" fill="#ec50e8" stroke="#ec50e8" stroke-width="0.8" stroke-opacity="0.3"/>
<circle cx="129.6" cy="232.9" r="2.0" fill="#ec50e8" stroke="#ec50e8" stroke-width="0.8" stroke-opacity="0.3"/>
<circle cx="132.5" cy="233.7" r="2.0" fill="#ec50e8" stroke="#ec50e8" stroke-width="0.8" stroke-opacity="0.3"/>
<circle cx="125.1" cy="235.3" r="2.0" fill="#ec50e8" stroke="#ec50e8" stroke-width="0.8" stroke-opacity="0.3"/>
<circle cx="128.8" cy="236.5" r="2.0" fill="#ec50e8" stroke="#ec50e8" stroke-width="0.8" stroke-opacity="0.3"/>
<circle cx="132" cy="238.2" r="2.0" fill="#ec50e8" stroke="#ec50e8" stroke-width="0.8" stroke-opacity="0.3"/>
<circle cx="129.6" cy="240.6" r="2.0" fill="#ec50e8" stroke="#ec50e8" stroke-width="0.8" stroke-opacity="0.3"/>
<circle cx="144.1" cy="220.6" r="2.0" fill="#8a1414" stroke="#8a1414" stroke-width="0.8" stroke-opacity="0.3"/>
<circle cx="141.4" cy="224.7" r="2.0" fill="#8a1414" stroke="#8a1414" stroke-width="0.8" stroke-opacity="0.3"/>
<circle cx="145.5" cy="225.1" r="2.0" fill="#8a1414" stroke="#8a1414" stroke-width="0.8" stroke-opacity="0.3"/>
<circle cx="138.6" cy="229.2" r="2.0" fill="#8a1414" stroke="#8a1414" stroke-width="0.8" stroke-opacity="0.3"/>
<circle cx="146.8" cy="228.4" r="2.0" fill="#8a1414" stroke="#8a1414" stroke-width="0.8" stroke-opacity="0.3"/>
<circle cx="143.9" cy="229.6" r="2.0" fill="#8a1414" stroke="#8a1414" stroke-width="0.8" stroke-opacity="0.3"/>
<circle cx="146.8" cy="233.9" r="2.0" fill="#8a1414" stroke="#8a1414" stroke-width="0.8" stroke-opacity="0.3"/>
<circle cx="144.3" cy="236.5" r="2.0" fill="#8a1414" stroke="#8a1414" stroke-width="0.8" stroke-opacity="0.3"/>
<line x1="174.5" y1="152.1" x2="174.5" y2="270.8" stroke="#3c3c3c" stroke-width="1.3"/>
<line x1="173.9" y1="270.2" x2="284.5" y2="270.2" stroke="#3c3c3c" stroke-width="1.3"/>
<line x1="172.3" y1="270.20" x2="174.5" y2="270.20" stroke="#3c3c3c" stroke-width="1"/>
<text x="170.70" y="272.30" text-anchor="end" font-size="6.2" fill="#222" stroke="#222" stroke-width="0.03">0.00</text>
<line x1="172.3" y1="250.60" x2="174.5" y2="250.60" stroke="#3c3c3c" stroke-width="1"/>
<text x="170.70" y="252.70" text-anchor="end" font-size="6.2" fill="#222" stroke="#222" stroke-width="0.03">0.25</text>
<line x1="172.3" y1="231.00" x2="174.5" y2="231.00" stroke="#3c3c3c" stroke-width="1"/>
<text x="170.70" y="233.10" text-anchor="end" font-size="6.2" fill="#222" stroke="#222" stroke-width="0.03">0.50</text>
<line x1="172.3" y1="211.40" x2="174.5" y2="211.40" stroke="#3c3c3c" stroke-width="1"/>
<text x="170.70" y="213.50" text-anchor="end" font-size="6.2" fill="#222" stroke="#222" stroke-width="0.03">0.75</text>
<line x1="172.3" y1="191.80" x2="174.5" y2="191.80" stroke="#3c3c3c" stroke-width="1"/>
<text x="170.70" y="193.90" text-anchor="end" font-size="6.2" fill="#222" stroke="#222" stroke-width="0.03">1.00</text>
<line x1="172.3" y1="172.20" x2="174.5" y2="172.20" stroke="#3c3c3c" stroke-width="1"/>
<text x="170.70" y="174.30" text-anchor="end" font-size="6.2" fill="#222" stroke="#222" stroke-width="0.03">1.25</text>
<line x1="172.3" y1="152.60" x2="174.5" y2="152.60" stroke="#3c3c3c" stroke-width="1"/>
<text x="170.70" y="154.70" text-anchor="end" font-size="6.2" fill="#222" stroke="#222" stroke-width="0.03">1.50</text>
<text x="231.4" y="145.5" text-anchor="middle" font-size="7.6" fill="#111" stroke="#111" stroke-width="0.12">GMP</text>
<circle cx="183.9" cy="160.6" r="2.0" fill="#111111" stroke="#111111" stroke-width="0.8" stroke-opacity="0.3"/>
<circle cx="183.9" cy="174.4" r="2.0" fill="#111111" stroke="#111111" stroke-width="0.8" stroke-opacity="0.3"/>
<circle cx="186.6" cy="188.8" r="2.0" fill="#111111" stroke="#111111" stroke-width="0.8" stroke-opacity="0.3"/>
<circle cx="183.9" cy="191.9" r="2.0" fill="#111111" stroke="#111111" stroke-width="0.8" stroke-opacity="0.3"/>
<circle cx="179.2" cy="197.1" r="2.0" fill="#111111" stroke="#111111" stroke-width="0.8" stroke-opacity="0.3"/>
<circle cx="186.6" cy="196.9" r="2.0" fill="#111111" stroke="#111111" stroke-width="0.8" stroke-opacity="0.3"/>
<circle cx="183.9" cy="200.5" r="2.0" fill="#111111" stroke="#111111" stroke-width="0.8" stroke-opacity="0.3"/>
<circle cx="183.9" cy="220.2" r="2.0" fill="#111111" stroke="#111111" stroke-width="0.8" stroke-opacity="0.3"/>
<line x1="179.5" y1="190.6" x2="185.1" y2="190.6" stroke="#111111" stroke-width="1.1" stroke-opacity="0.85"/>
<circle cx="198" cy="180.8" r="2.0" fill="#e2362a" stroke="#e2362a" stroke-width="0.8" stroke-opacity="0.3"/>
<circle cx="198.2" cy="200.2" r="2.0" fill="#e2362a" stroke="#e2362a" stroke-width="0.8" stroke-opacity="0.3"/>
<circle cx="195.7" cy="209.3" r="2.0" fill="#e2362a" stroke="#e2362a" stroke-width="0.8" stroke-opacity="0.3"/>
<circle cx="193.2" cy="210.8" r="2.0" fill="#e2362a" stroke="#e2362a" stroke-width="0.8" stroke-opacity="0.3"/>
<circle cx="200.7" cy="209.3" r="2.0" fill="#e2362a" stroke="#e2362a" stroke-width="0.8" stroke-opacity="0.3"/>
<circle cx="198.2" cy="212.3" r="2.0" fill="#e2362a" stroke="#e2362a" stroke-width="0.8" stroke-opacity="0.3"/>
<circle cx="200.7" cy="214.8" r="2.0" fill="#e2362a" stroke="#e2362a" stroke-width="0.8" stroke-opacity="0.3"/>
<circle cx="198.2" cy="218.1" r="2.0" fill="#e2362a" stroke="#e2362a" stroke-width="0.8" stroke-opacity="0.3"/>
<line x1="193.2" y1="205.7" x2="201.8" y2="205.7" stroke="#e2362a" stroke-width="1.1" stroke-opacity="0.7"/>
<circle cx="209.6" cy="232.3" r="2.0" fill="#1c24d8" stroke="#1c24d8" stroke-width="0.8" stroke-opacity="0.3"/>
<circle cx="212.1" cy="234.1" r="2.0" fill="#1c24d8" stroke="#1c24d8" stroke-width="0.8" stroke-opacity="0.3"/>
<circle cx="204.8" cy="235.7" r="2.0" fill="#1c24d8" stroke="#1c24d8" stroke-width="0.8" stroke-opacity="0.3"/>
<circle cx="210.1" cy="237.7" r="2.0" fill="#1c24d8" stroke="#1c24d8" stroke-width="0.8" stroke-opacity="0.3"/>
<circle cx="211.9" cy="243.7" r="2.0" fill="#1c24d8" stroke="#1c24d8" stroke-width="0.8" stroke-opacity="0.3"/>
<circle cx="209.6" cy="245.3" r="2.0" fill="#1c24d8" stroke="#1c24d8" stroke-width="0.8" stroke-opacity="0.3"/>
<circle cx="223" cy="240.2" r="2.0" fill="#ec8626" stroke="#ec8626" stroke-width="0.8" stroke-opacity="0.3"/>
<circle cx="225.8" cy="244.2" r="2.0" fill="#ec8626" stroke="#ec8626" stroke-width="0.8" stroke-opacity="0.3"/>
<circle cx="218.2" cy="246.8" r="2.0" fill="#ec8626" stroke="#ec8626" stroke-width="0.8" stroke-opacity="0.3"/>
<circle cx="223.2" cy="247.3" r="2.0" fill="#ec8626" stroke="#ec8626" stroke-width="0.8" stroke-opacity="0.3"/>
<circle cx="220.7" cy="250.8" r="2.0" fill="#ec8626" stroke="#ec8626" stroke-width="0.8" stroke-opacity="0.3"/>
<circle cx="224.7" cy="251.3" r="2.0" fill="#ec8626" stroke="#ec8626" stroke-width="0.8" stroke-opacity="0.3"/>
<circle cx="222.4" cy="252.8" r="2.0" fill="#ec8626" stroke="#ec8626" stroke-width="0.8" stroke-opacity="0.3"/>
<circle cx="237.6" cy="248.1" r="2.0" fill="#84248e" stroke="#84248e" stroke-width="0.8" stroke-opacity="0.3"/>
<circle cx="240.4" cy="249.3" r="2.0" fill="#84248e" stroke="#84248e" stroke-width="0.8" stroke-opacity="0.3"/>
<circle cx="232.8" cy="250.8" r="2.0" fill="#84248e" stroke="#84248e" stroke-width="0.8" stroke-opacity="0.3"/>
<circle cx="237.6" cy="253.1" r="2.0" fill="#84248e" stroke="#84248e" stroke-width="0.8" stroke-opacity="0.3"/>
<circle cx="240.4" cy="256.4" r="2.0" fill="#84248e" stroke="#84248e" stroke-width="0.8" stroke-opacity="0.3"/>
<circle cx="237.6" cy="260.4" r="2.0" fill="#84248e" stroke="#84248e" stroke-width="0.8" stroke-opacity="0.3"/>
<circle cx="251.7" cy="235.1" r="2.0" fill="#188a24" stroke="#188a24" stroke-width="0.8" stroke-opacity="0.3"/>
<circle cx="251.7" cy="241.2" r="2.0" fill="#188a24" stroke="#188a24" stroke-width="0.8" stroke-opacity="0.3"/>
<circle cx="249.1" cy="243.7" r="2.0" fill="#188a24" stroke="#188a24" stroke-width="0.8" stroke-opacity="0.3"/>
<circle cx="253.7" cy="244.7" r="2.0" fill="#188a24" stroke="#188a24" stroke-width="0.8" stroke-opacity="0.3"/>
<circle cx="246.6" cy="246.7" r="2.0" fill="#188a24" stroke="#188a24" stroke-width="0.8" stroke-opacity="0.3"/>
<circle cx="251.2" cy="247.3" r="2.0" fill="#188a24" stroke="#188a24" stroke-width="0.8" stroke-opacity="0.3"/>
<circle cx="254.2" cy="248.3" r="2.0" fill="#188a24" stroke="#188a24" stroke-width="0.8" stroke-opacity="0.3"/>
<circle cx="251.2" cy="251.8" r="2.0" fill="#188a24" stroke="#188a24" stroke-width="0.8" stroke-opacity="0.3"/>
<circle cx="261" cy="241.7" r="2.0" fill="#ec50e8" stroke="#ec50e8" stroke-width="0.8" stroke-opacity="0.3"/>
<circle cx="265.8" cy="244.2" r="2.0" fill="#ec50e8" stroke="#ec50e8" stroke-width="0.8" stroke-opacity="0.3"/>
<circle cx="263.8" cy="247.3" r="2.0" fill="#ec50e8" stroke="#ec50e8" stroke-width="0.8" stroke-opacity="0.3"/>
<circle cx="267.3" cy="246.7" r="2.0" fill="#ec50e8" stroke="#ec50e8" stroke-width="0.8" stroke-opacity="0.3"/>
<circle cx="262.3" cy="249.8" r="2.0" fill="#ec50e8" stroke="#ec50e8" stroke-width="0.8" stroke-opacity="0.3"/>
<circle cx="266.3" cy="250.3" r="2.0" fill="#ec50e8" stroke="#ec50e8" stroke-width="0.8" stroke-opacity="0.3"/>
<circle cx="268.3" cy="251.8" r="2.0" fill="#ec50e8" stroke="#ec50e8" stroke-width="0.8" stroke-opacity="0.3"/>
<circle cx="260.7" cy="254.3" r="2.0" fill="#ec50e8" stroke="#ec50e8" stroke-width="0.8" stroke-opacity="0.3"/>
<circle cx="265.3" cy="253.8" r="2.0" fill="#ec50e8" stroke="#ec50e8" stroke-width="0.8" stroke-opacity="0.3"/>
<circle cx="267.8" cy="256.8" r="2.0" fill="#ec50e8" stroke="#ec50e8" stroke-width="0.8" stroke-opacity="0.3"/>
<circle cx="265.8" cy="260.4" r="2.0" fill="#ec50e8" stroke="#ec50e8" stroke-width="0.8" stroke-opacity="0.3"/>
<circle cx="282.5" cy="249.3" r="2.0" fill="#8a1414" stroke="#8a1414" stroke-width="0.8" stroke-opacity="0.3"/>
<circle cx="279.4" cy="250.8" r="2.0" fill="#8a1414" stroke="#8a1414" stroke-width="0.8" stroke-opacity="0.3"/>
<circle cx="276.4" cy="253.3" r="2.0" fill="#8a1414" stroke="#8a1414" stroke-width="0.8" stroke-opacity="0.3"/>
<circle cx="281" cy="253.3" r="2.0" fill="#8a1414" stroke="#8a1414" stroke-width="0.8" stroke-opacity="0.3"/>
<circle cx="283.5" cy="252.3" r="2.0" fill="#8a1414" stroke="#8a1414" stroke-width="0.8" stroke-opacity="0.3"/>
<circle cx="281" cy="259.9" r="2.0" fill="#8a1414" stroke="#8a1414" stroke-width="0.8" stroke-opacity="0.3"/>
<line x1="310.2" y1="150.75" x2="310.2" y2="269.1" stroke="#3c3c3c" stroke-width="1.3"/>
<line x1="309.59999999999997" y1="268.5" x2="425.8" y2="268.5" stroke="#3c3c3c" stroke-width="1.3"/>
<line x1="308.0" y1="268.50" x2="310.2" y2="268.50" stroke="#3c3c3c" stroke-width="1"/>
<text x="305.80" y="270.60" text-anchor="end" font-size="6.2" fill="#222" stroke="#222" stroke-width="0.03">0</text>
<line x1="308.0" y1="257.84" x2="310.2" y2="257.84" stroke="#3c3c3c" stroke-width="1"/>
<text x="305.80" y="259.94" text-anchor="end" font-size="6.2" fill="#222" stroke="#222" stroke-width="0.03">1</text>
<line x1="308.0" y1="247.18" x2="310.2" y2="247.18" stroke="#3c3c3c" stroke-width="1"/>
<text x="305.80" y="249.28" text-anchor="end" font-size="6.2" fill="#222" stroke="#222" stroke-width="0.03">2</text>
<line x1="308.0" y1="236.52" x2="310.2" y2="236.52" stroke="#3c3c3c" stroke-width="1"/>
<text x="305.80" y="238.62" text-anchor="end" font-size="6.2" fill="#222" stroke="#222" stroke-width="0.03">3</text>
<line x1="308.0" y1="225.86" x2="310.2" y2="225.86" stroke="#3c3c3c" stroke-width="1"/>
<text x="305.80" y="227.96" text-anchor="end" font-size="6.2" fill="#222" stroke="#222" stroke-width="0.03">4</text>
<line x1="308.0" y1="215.20" x2="310.2" y2="215.20" stroke="#3c3c3c" stroke-width="1"/>
<text x="305.80" y="217.30" text-anchor="end" font-size="6.2" fill="#222" stroke="#222" stroke-width="0.03">5</text>
<line x1="308.0" y1="204.55" x2="310.2" y2="204.55" stroke="#3c3c3c" stroke-width="1"/>
<text x="305.80" y="206.65" text-anchor="end" font-size="6.2" fill="#222" stroke="#222" stroke-width="0.03">6</text>
<line x1="308.0" y1="193.89" x2="310.2" y2="193.89" stroke="#3c3c3c" stroke-width="1"/>
<text x="305.80" y="195.99" text-anchor="end" font-size="6.2" fill="#222" stroke="#222" stroke-width="0.03">7</text>
<line x1="308.0" y1="183.23" x2="310.2" y2="183.23" stroke="#3c3c3c" stroke-width="1"/>
<text x="305.80" y="185.33" text-anchor="end" font-size="6.2" fill="#222" stroke="#222" stroke-width="0.03">8</text>
<line x1="308.0" y1="172.57" x2="310.2" y2="172.57" stroke="#3c3c3c" stroke-width="1"/>
<text x="305.80" y="174.67" text-anchor="end" font-size="6.2" fill="#222" stroke="#222" stroke-width="0.03">9</text>
<line x1="308.0" y1="161.91" x2="310.2" y2="161.91" stroke="#3c3c3c" stroke-width="1"/>
<text x="305.80" y="164.01" text-anchor="end" font-size="6.2" fill="#222" stroke="#222" stroke-width="0.03">10</text>
<line x1="308.0" y1="151.25" x2="310.2" y2="151.25" stroke="#3c3c3c" stroke-width="1"/>
<text x="305.80" y="153.35" text-anchor="end" font-size="6.2" fill="#222" stroke="#222" stroke-width="0.03">11</text>
<text x="369.6" y="145.3" text-anchor="middle" font-size="7.6" fill="#111" stroke="#111" stroke-width="0.12">MEP</text>
<circle cx="319.6" cy="177.3" r="2.0" fill="#111111" stroke="#111111" stroke-width="0.8" stroke-opacity="0.3"/>
<circle cx="322.6" cy="181.8" r="2.0" fill="#111111" stroke="#111111" stroke-width="0.8" stroke-opacity="0.3"/>
<circle cx="324.9" cy="180.8" r="2.0" fill="#111111" stroke="#111111" stroke-width="0.8" stroke-opacity="0.3"/>
<circle cx="317.6" cy="187.4" r="2.0" fill="#111111" stroke="#111111" stroke-width="0.8" stroke-opacity="0.3"/>
<circle cx="322.1" cy="187.9" r="2.0" fill="#111111" stroke="#111111" stroke-width="0.8" stroke-opacity="0.3"/>
<circle cx="322.1" cy="197.7" r="2.0" fill="#111111" stroke="#111111" stroke-width="0.8" stroke-opacity="0.3"/>
<circle cx="322.1" cy="203.9" r="2.0" fill="#111111" stroke="#111111" stroke-width="0.8" stroke-opacity="0.3"/>
<circle cx="322.1" cy="210.1" r="2.0" fill="#111111" stroke="#111111" stroke-width="0.8" stroke-opacity="0.3"/>
<line x1="317" y1="190.1" x2="325.6" y2="190.1" stroke="#111111" stroke-width="1.1" stroke-opacity="0.85"/>
<circle cx="336.2" cy="159.1" r="2.0" fill="#e2362a" stroke="#e2362a" stroke-width="0.8" stroke-opacity="0.3"/>
<circle cx="336.2" cy="171.7" r="2.0" fill="#e2362a" stroke="#e2362a" stroke-width="0.8" stroke-opacity="0.3"/>
<circle cx="338.8" cy="174.7" r="2.0" fill="#e2362a" stroke="#e2362a" stroke-width="0.8" stroke-opacity="0.3"/>
<circle cx="331.2" cy="177.8" r="2.0" fill="#e2362a" stroke="#e2362a" stroke-width="0.8" stroke-opacity="0.3"/>
<circle cx="336.2" cy="177.3" r="2.0" fill="#e2362a" stroke="#e2362a" stroke-width="0.8" stroke-opacity="0.3"/>
<circle cx="336.2" cy="181.8" r="2.0" fill="#e2362a" stroke="#e2362a" stroke-width="0.8" stroke-opacity="0.3"/>
<circle cx="338.3" cy="195.7" r="2.0" fill="#e2362a" stroke="#e2362a" stroke-width="0.8" stroke-opacity="0.3"/>
<circle cx="335.7" cy="197.7" r="2.0" fill="#e2362a" stroke="#e2362a" stroke-width="0.8" stroke-opacity="0.3"/>
<line x1="331.5" y1="178.5" x2="340" y2="178.5" stroke="#e2362a" stroke-width="1.1" stroke-opacity="0.7"/>
<circle cx="349.9" cy="160.1" r="2.0" fill="#1c24d8" stroke="#1c24d8" stroke-width="0.8" stroke-opacity="0.3"/>
<circle cx="347.4" cy="180.3" r="2.0" fill="#1c24d8" stroke="#1c24d8" stroke-width="0.8" stroke-opacity="0.3"/>
<circle cx="349.9" cy="182.3" r="2.0" fill="#1c24d8" stroke="#1c24d8" stroke-width="0.8" stroke-opacity="0.3"/>
<circle cx="352.4" cy="182.3" r="2.0" fill="#1c24d8" stroke="#1c24d8" stroke-width="0.8" stroke-opacity="0.3"/>
<circle cx="349.9" cy="184.3" r="2.0" fill="#1c24d8" stroke="#1c24d8" stroke-width="0.8" stroke-opacity="0.3"/>
<circle cx="349.9" cy="192.3" r="2.0" fill="#1c24d8" stroke="#1c24d8" stroke-width="0.8" stroke-opacity="0.3"/>
<circle cx="349.9" cy="199.4" r="2.0" fill="#1c24d8" stroke="#1c24d8" stroke-width="0.8" stroke-opacity="0.3"/>
<line x1="345.5" y1="183" x2="353.5" y2="183" stroke="#1c24d8" stroke-width="1.1" stroke-opacity="0.7"/>
<circle cx="363.4" cy="200.6" r="2.0" fill="#ec8626" stroke="#ec8626" stroke-width="0.8" stroke-opacity="0.3"/>
<circle cx="363.4" cy="210.6" r="2.0" fill="#ec8626" stroke="#ec8626" stroke-width="0.8" stroke-opacity="0.3"/>
<circle cx="359" cy="226" r="2.0" fill="#ec8626" stroke="#ec8626" stroke-width="0.8" stroke-opacity="0.3"/>
<circle cx="362" cy="224.8" r="2.0" fill="#ec8626" stroke="#ec8626" stroke-width="0.8" stroke-opacity="0.3"/>
<circle cx="365.6" cy="224.8" r="2.0" fill="#ec8626" stroke="#ec8626" stroke-width="0.8" stroke-opacity="0.3"/>
<circle cx="362.5" cy="226.5" r="2.0" fill="#ec8626" stroke="#ec8626" stroke-width="0.8" stroke-opacity="0.3"/>
<circle cx="363.4" cy="233.8" r="2.0" fill="#ec8626" stroke="#ec8626" stroke-width="0.8" stroke-opacity="0.3"/>
<line x1="358.4" y1="221" x2="367.4" y2="221" stroke="#ec8626" stroke-width="1.1" stroke-opacity="0.7"/>
<circle cx="376" cy="172.1" r="2.0" fill="#84248e" stroke="#84248e" stroke-width="0.8" stroke-opacity="0.3"/>
<circle cx="378.7" cy="177" r="2.0" fill="#84248e" stroke="#84248e" stroke-width="0.8" stroke-opacity="0.3"/>
<circle cx="376.2" cy="180.2" r="2.0" fill="#84248e" stroke="#84248e" stroke-width="0.8" stroke-opacity="0.3"/>
<circle cx="376.2" cy="187.3" r="2.0" fill="#84248e" stroke="#84248e" stroke-width="0.8" stroke-opacity="0.3"/>
<circle cx="378.7" cy="191.3" r="2.0" fill="#84248e" stroke="#84248e" stroke-width="0.8" stroke-opacity="0.3"/>
<circle cx="376.2" cy="195.2" r="2.0" fill="#84248e" stroke="#84248e" stroke-width="0.8" stroke-opacity="0.3"/>
<line x1="370.7" y1="183.3" x2="379.7" y2="183.3" stroke="#84248e" stroke-width="1.1" stroke-opacity="0.7"/>
<circle cx="386.5" cy="173.7" r="2.0" fill="#188a24" stroke="#188a24" stroke-width="0.8" stroke-opacity="0.3"/>
<circle cx="391.6" cy="175" r="2.0" fill="#188a24" stroke="#188a24" stroke-width="0.8" stroke-opacity="0.3"/>
<circle cx="388.8" cy="182.7" r="2.0" fill="#188a24" stroke="#188a24" stroke-width="0.8" stroke-opacity="0.3"/>
<circle cx="391.4" cy="184.8" r="2.0" fill="#188a24" stroke="#188a24" stroke-width="0.8" stroke-opacity="0.3"/>
<circle cx="394.4" cy="185.3" r="2.0" fill="#188a24" stroke="#188a24" stroke-width="0.8" stroke-opacity="0.3"/>
<circle cx="386.8" cy="192.8" r="2.0" fill="#188a24" stroke="#188a24" stroke-width="0.8" stroke-opacity="0.3"/>
<circle cx="391.4" cy="193.2" r="2.0" fill="#188a24" stroke="#188a24" stroke-width="0.8" stroke-opacity="0.3"/>
<circle cx="393.9" cy="190.8" r="2.0" fill="#188a24" stroke="#188a24" stroke-width="0.8" stroke-opacity="0.3"/>
<circle cx="391.4" cy="198.4" r="2.0" fill="#188a24" stroke="#188a24" stroke-width="0.8" stroke-opacity="0.3"/>
<line x1="386.3" y1="184.8" x2="392.4" y2="184.8" stroke="#188a24" stroke-width="1.1" stroke-opacity="0.7"/>
<circle cx="403.7" cy="192.1" r="2.0" fill="#ec50e8" stroke="#ec50e8" stroke-width="0.8" stroke-opacity="0.3"/>
<circle cx="408.3" cy="193.1" r="2.0" fill="#ec50e8" stroke="#ec50e8" stroke-width="0.8" stroke-opacity="0.3"/>
<circle cx="405.8" cy="194.1" r="2.0" fill="#ec50e8" stroke="#ec50e8" stroke-width="0.8" stroke-opacity="0.3"/>
<circle cx="401.2" cy="196" r="2.0" fill="#ec50e8" stroke="#ec50e8" stroke-width="0.8" stroke-opacity="0.3"/>
<circle cx="406.1" cy="198.7" r="2.0" fill="#ec50e8" stroke="#ec50e8" stroke-width="0.8" stroke-opacity="0.3"/>
<circle cx="408.3" cy="203.7" r="2.0" fill="#ec50e8" stroke="#ec50e8" stroke-width="0.8" stroke-opacity="0.3"/>
<circle cx="405.8" cy="205.8" r="2.0" fill="#ec50e8" stroke="#ec50e8" stroke-width="0.8" stroke-opacity="0.3"/>
<circle cx="403.2" cy="206.8" r="2.0" fill="#ec50e8" stroke="#ec50e8" stroke-width="0.8" stroke-opacity="0.3"/>
<circle cx="408.3" cy="209.3" r="2.0" fill="#ec50e8" stroke="#ec50e8" stroke-width="0.8" stroke-opacity="0.3"/>
<circle cx="401.2" cy="210.1" r="2.0" fill="#ec50e8" stroke="#ec50e8" stroke-width="0.8" stroke-opacity="0.3"/>
<circle cx="405.8" cy="210.8" r="2.0" fill="#ec50e8" stroke="#ec50e8" stroke-width="0.8" stroke-opacity="0.3"/>
<circle cx="405.8" cy="215.4" r="2.0" fill="#ec50e8" stroke="#ec50e8" stroke-width="0.8" stroke-opacity="0.3"/>
<line x1="401.2" y1="202.4" x2="406.8" y2="202.4" stroke="#ec50e8" stroke-width="1.1" stroke-opacity="0.7"/>
<circle cx="417.8" cy="207.6" r="2.0" fill="#8a1414" stroke="#8a1414" stroke-width="0.8" stroke-opacity="0.3"/>
<circle cx="421.2" cy="207.5" r="2.0" fill="#8a1414" stroke="#8a1414" stroke-width="0.8" stroke-opacity="0.3"/>
<circle cx="419.7" cy="209.9" r="2.0" fill="#8a1414" stroke="#8a1414" stroke-width="0.8" stroke-opacity="0.3"/>
<circle cx="419.7" cy="216.7" r="2.0" fill="#8a1414" stroke="#8a1414" stroke-width="0.8" stroke-opacity="0.3"/>
<circle cx="417.8" cy="220.2" r="2.0" fill="#8a1414" stroke="#8a1414" stroke-width="0.8" stroke-opacity="0.3"/>
<circle cx="422" cy="221.2" r="2.0" fill="#8a1414" stroke="#8a1414" stroke-width="0.8" stroke-opacity="0.3"/>
<circle cx="420" cy="224.6" r="2.0" fill="#8a1414" stroke="#8a1414" stroke-width="0.8" stroke-opacity="0.3"/>
<line x1="414.7" y1="214.3" x2="423.6" y2="214.3" stroke="#8a1414" stroke-width="1.1" stroke-opacity="0.7"/>
<line x1="37.5" y1="293.25" x2="37.5" y2="412.1" stroke="#3c3c3c" stroke-width="1.3"/>
<line x1="36.9" y1="411.5" x2="152" y2="411.5" stroke="#3c3c3c" stroke-width="1.3"/>
<line x1="35.3" y1="411.50" x2="37.5" y2="411.50" stroke="#3c3c3c" stroke-width="1"/>
<text x="33.10" y="413.60" text-anchor="end" font-size="6.2" fill="#222" stroke="#222" stroke-width="0.03">0</text>
<line x1="35.3" y1="396.78" x2="37.5" y2="396.78" stroke="#3c3c3c" stroke-width="1"/>
<text x="33.10" y="398.88" text-anchor="end" font-size="6.2" fill="#222" stroke="#222" stroke-width="0.03">10</text>
<line x1="35.3" y1="382.06" x2="37.5" y2="382.06" stroke="#3c3c3c" stroke-width="1"/>
<text x="33.10" y="384.16" text-anchor="end" font-size="6.2" fill="#222" stroke="#222" stroke-width="0.03">20</text>
<line x1="35.3" y1="367.34" x2="37.5" y2="367.34" stroke="#3c3c3c" stroke-width="1"/>
<text x="33.10" y="369.44" text-anchor="end" font-size="6.2" fill="#222" stroke="#222" stroke-width="0.03">30</text>
<line x1="35.3" y1="352.62" x2="37.5" y2="352.62" stroke="#3c3c3c" stroke-width="1"/>
<text x="33.10" y="354.73" text-anchor="end" font-size="6.2" fill="#222" stroke="#222" stroke-width="0.03">40</text>
<line x1="35.3" y1="337.91" x2="37.5" y2="337.91" stroke="#3c3c3c" stroke-width="1"/>
<text x="33.10" y="340.01" text-anchor="end" font-size="6.2" fill="#222" stroke="#222" stroke-width="0.03">50</text>
<line x1="35.3" y1="323.19" x2="37.5" y2="323.19" stroke="#3c3c3c" stroke-width="1"/>
<text x="33.10" y="325.29" text-anchor="end" font-size="6.2" fill="#222" stroke="#222" stroke-width="0.03">60</text>
<line x1="35.3" y1="308.47" x2="37.5" y2="308.47" stroke="#3c3c3c" stroke-width="1"/>
<text x="33.10" y="310.57" text-anchor="end" font-size="6.2" fill="#222" stroke="#222" stroke-width="0.03">70</text>
<line x1="35.3" y1="293.75" x2="37.5" y2="293.75" stroke="#3c3c3c" stroke-width="1"/>
<text x="33.10" y="295.85" text-anchor="end" font-size="6.2" fill="#222" stroke="#222" stroke-width="0.03">80</text>
<text x="93.75" y="285.5" text-anchor="middle" font-size="7.6" fill="#111" stroke="#111" stroke-width="0.12">primitive RBC</text>
<circle cx="45.1" cy="340.1" r="2.0" fill="#111111" stroke="#111111" stroke-width="0.8" stroke-opacity="0.3"/>
<circle cx="50.1" cy="341.1" r="2.0" fill="#111111" stroke="#111111" stroke-width="0.8" stroke-opacity="0.3"/>
<circle cx="50.1" cy="347.3" r="2.0" fill="#111111" stroke="#111111" stroke-width="0.8" stroke-opacity="0.3"/>
<circle cx="52.6" cy="347.1" r="2.0" fill="#111111" stroke="#111111" stroke-width="0.8" stroke-opacity="0.3"/>
<circle cx="52.6" cy="352" r="2.0" fill="#111111" stroke="#111111" stroke-width="0.8" stroke-opacity="0.3"/>
<circle cx="45.1" cy="354.7" r="2.0" fill="#111111" stroke="#111111" stroke-width="0.8" stroke-opacity="0.3"/>
<circle cx="50.1" cy="356" r="2.0" fill="#111111" stroke="#111111" stroke-width="0.8" stroke-opacity="0.3"/>
<circle cx="50.1" cy="361.5" r="2.0" fill="#111111" stroke="#111111" stroke-width="0.8" stroke-opacity="0.3"/>
<line x1="45.3" y1="349.4" x2="51.1" y2="349.4" stroke="#111111" stroke-width="1.1" stroke-opacity="0.85"/>
<circle cx="63.2" cy="341.1" r="2.0" fill="#e2362a" stroke="#e2362a" stroke-width="0.8" stroke-opacity="0.3"/>
<circle cx="60.7" cy="349.7" r="2.0" fill="#e2362a" stroke="#e2362a" stroke-width="0.8" stroke-opacity="0.3"/>
<circle cx="63.2" cy="352.2" r="2.0" fill="#e2362a" stroke="#e2362a" stroke-width="0.8" stroke-opacity="0.3"/>
<circle cx="66.1" cy="352.4" r="2.0" fill="#e2362a" stroke="#e2362a" stroke-width="0.8" stroke-opacity="0.3"/>
<circle cx="66.1" cy="359.3" r="2.0" fill="#e2362a" stroke="#e2362a" stroke-width="0.8" stroke-opacity="0.3"/>
<circle cx="58.7" cy="362.5" r="2.0" fill="#e2362a" stroke="#e2362a" stroke-width="0.8" stroke-opacity="0.3"/>
<circle cx="63.2" cy="363.1" r="2.0" fill="#e2362a" stroke="#e2362a" stroke-width="0.8" stroke-opacity="0.3"/>
<circle cx="63.2" cy="371.9" r="2.0" fill="#e2362a" stroke="#e2362a" stroke-width="0.8" stroke-opacity="0.3"/>
<line x1="58.7" y1="355.7" x2="64.8" y2="355.7" stroke="#e2362a" stroke-width="1.1" stroke-opacity="0.7"/>
<circle cx="79.4" cy="307.3" r="2.0" fill="#1c24d8" stroke="#1c24d8" stroke-width="0.8" stroke-opacity="0.3"/>
<circle cx="76.9" cy="309.1" r="2.0" fill="#1c24d8" stroke="#1c24d8" stroke-width="0.8" stroke-opacity="0.3"/>
<circle cx="71.8" cy="316.4" r="2.0" fill="#1c24d8" stroke="#1c24d8" stroke-width="0.8" stroke-opacity="0.3"/>
<circle cx="76.9" cy="321.2" r="2.0" fill="#1c24d8" stroke="#1c24d8" stroke-width="0.8" stroke-opacity="0.3"/>
<circle cx="79.4" cy="326.1" r="2.0" fill="#1c24d8" stroke="#1c24d8" stroke-width="0.8" stroke-opacity="0.3"/>
<circle cx="76.9" cy="331.1" r="2.0" fill="#1c24d8" stroke="#1c24d8" stroke-width="0.8" stroke-opacity="0.3"/>
<line x1="72.3" y1="317.7" x2="79.9" y2="317.7" stroke="#1c24d8" stroke-width="1.1" stroke-opacity="0.7"/>
<circle cx="91.1" cy="382.6" r="2.0" fill="#ec8626" stroke="#ec8626" stroke-width="0.8" stroke-opacity="0.3"/>
<circle cx="88.6" cy="387.2" r="2.0" fill="#ec8626" stroke="#ec8626" stroke-width="0.8" stroke-opacity="0.3"/>
<circle cx="86.6" cy="391.7" r="2.0" fill="#ec8626" stroke="#ec8626" stroke-width="0.8" stroke-opacity="0.3"/>
<circle cx="83.6" cy="395.3" r="2.0" fill="#ec8626" stroke="#ec8626" stroke-width="0.8" stroke-opacity="0.3"/>
<circle cx="89.1" cy="394.2" r="2.0" fill="#ec8626" stroke="#ec8626" stroke-width="0.8" stroke-opacity="0.3"/>
<circle cx="91.6" cy="395.8" r="2.0" fill="#ec8626" stroke="#ec8626" stroke-width="0.8" stroke-opacity="0.3"/>
<circle cx="89.6" cy="396.8" r="2.0" fill="#ec8626" stroke="#ec8626" stroke-width="0.8" stroke-opacity="0.3"/>
<circle cx="88.6" cy="400.8" r="2.0" fill="#ec8626" stroke="#ec8626" stroke-width="0.8" stroke-opacity="0.3"/>
<circle cx="101.7" cy="399.3" r="2.0" fill="#84248e" stroke="#84248e" stroke-width="0.8" stroke-opacity="0.3"/>
<circle cx="99.2" cy="402.3" r="2.0" fill="#84248e" stroke="#84248e" stroke-width="0.8" stroke-opacity="0.3"/>
<circle cx="104.3" cy="402.8" r="2.0" fill="#84248e" stroke="#84248e" stroke-width="0.8" stroke-opacity="0.3"/>
<circle cx="101.7" cy="405.4" r="2.0" fill="#84248e" stroke="#84248e" stroke-width="0.8" stroke-opacity="0.3"/>
<circle cx="101.7" cy="402.5" r="2.0" fill="#84248e" stroke="#84248e" stroke-width="0.8" stroke-opacity="0.3"/>
<circle cx="100.3" cy="400.8" r="2.0" fill="#84248e" stroke="#84248e" stroke-width="0.8" stroke-opacity="0.3"/>
<circle cx="103" cy="401" r="2.0" fill="#84248e" stroke="#84248e" stroke-width="0.8" stroke-opacity="0.3"/>
<circle cx="100.5" cy="404" r="2.0" fill="#84248e" stroke="#84248e" stroke-width="0.8" stroke-opacity="0.3"/>
<circle cx="103" cy="404" r="2.0" fill="#84248e" stroke="#84248e" stroke-width="0.8" stroke-opacity="0.3"/>
<circle cx="112.8" cy="376.1" r="2.0" fill="#188a24" stroke="#188a24" stroke-width="0.8" stroke-opacity="0.3"/>
<circle cx="117.9" cy="379.6" r="2.0" fill="#188a24" stroke="#188a24" stroke-width="0.8" stroke-opacity="0.3"/>
<circle cx="115.4" cy="381.1" r="2.0" fill="#188a24" stroke="#188a24" stroke-width="0.8" stroke-opacity="0.3"/>
<circle cx="110.3" cy="385.7" r="2.0" fill="#188a24" stroke="#188a24" stroke-width="0.8" stroke-opacity="0.3"/>
<circle cx="115.9" cy="386.2" r="2.0" fill="#188a24" stroke="#188a24" stroke-width="0.8" stroke-opacity="0.3"/>
<circle cx="112.8" cy="390.7" r="2.0" fill="#188a24" stroke="#188a24" stroke-width="0.8" stroke-opacity="0.3"/>
<circle cx="117.9" cy="390.2" r="2.0" fill="#188a24" stroke="#188a24" stroke-width="0.8" stroke-opacity="0.3"/>
<circle cx="115.9" cy="391.7" r="2.0" fill="#188a24" stroke="#188a24" stroke-width="0.8" stroke-opacity="0.3"/>
<circle cx="115.9" cy="394.2" r="2.0" fill="#188a24" stroke="#188a24" stroke-width="0.8" stroke-opacity="0.3"/>
<circle cx="128.2" cy="406.4" r="2.0" fill="#ec50e8" stroke="#ec50e8" stroke-width="0.8" stroke-opacity="0.3"/>
<circle cx="125.3" cy="408.4" r="2.0" fill="#ec50e8" stroke="#ec50e8" stroke-width="0.8" stroke-opacity="0.3"/>
<circle cx="130.5" cy="408.7" r="2.0" fill="#ec50e8" stroke="#ec50e8" stroke-width="0.8" stroke-opacity="0.3"/>
<circle cx="127.6" cy="410.1" r="2.0" fill="#ec50e8" stroke="#ec50e8" stroke-width="0.8" stroke-opacity="0.3"/>
<circle cx="128" cy="408.3" r="2.0" fill="#ec50e8" stroke="#ec50e8" stroke-width="0.8" stroke-opacity="0.3"/>
<circle cx="139.1" cy="388.7" r="2.0" fill="#8a1414" stroke="#8a1414" stroke-width="0.8" stroke-opacity="0.3"/>
<circle cx="143.8" cy="390.2" r="2.0" fill="#8a1414" stroke="#8a1414" stroke-width="0.8" stroke-opacity="0.3"/>
<circle cx="141.3" cy="393.7" r="2.0" fill="#8a1414" stroke="#8a1414" stroke-width="0.8" stroke-opacity="0.3"/>
<circle cx="143.8" cy="396.1" r="2.0" fill="#8a1414" stroke="#8a1414" stroke-width="0.8" stroke-opacity="0.3"/>
<circle cx="136.8" cy="396.8" r="2.0" fill="#8a1414" stroke="#8a1414" stroke-width="0.8" stroke-opacity="0.3"/>
<circle cx="141.3" cy="398.3" r="2.0" fill="#8a1414" stroke="#8a1414" stroke-width="0.8" stroke-opacity="0.3"/>
<circle cx="143.8" cy="403.3" r="2.0" fill="#8a1414" stroke="#8a1414" stroke-width="0.8" stroke-opacity="0.3"/>
<circle cx="141.3" cy="406.2" r="2.0" fill="#8a1414" stroke="#8a1414" stroke-width="0.8" stroke-opacity="0.3"/>
<line x1="174.8" y1="293.75" x2="174.8" y2="411.6" stroke="#3c3c3c" stroke-width="1.3"/>
<line x1="174.20000000000002" y1="411" x2="289.5" y2="411" stroke="#3c3c3c" stroke-width="1.3"/>
<line x1="172.60000000000002" y1="411.00" x2="174.8" y2="411.00" stroke="#3c3c3c" stroke-width="1"/>
<text x="170.50" y="413.10" text-anchor="end" font-size="6.2" fill="#222" stroke="#222" stroke-width="0.03">0</text>
<line x1="172.60000000000002" y1="396.41" x2="174.8" y2="396.41" stroke="#3c3c3c" stroke-width="1"/>
<text x="170.50" y="398.51" text-anchor="end" font-size="6.2" fill="#222" stroke="#222" stroke-width="0.03">10</text>
<line x1="172.60000000000002" y1="381.81" x2="174.8" y2="381.81" stroke="#3c3c3c" stroke-width="1"/>
<text x="170.50" y="383.91" text-anchor="end" font-size="6.2" fill="#222" stroke="#222" stroke-width="0.03">20</text>
<line x1="172.60000000000002" y1="367.22" x2="174.8" y2="367.22" stroke="#3c3c3c" stroke-width="1"/>
<text x="170.50" y="369.32" text-anchor="end" font-size="6.2" fill="#222" stroke="#222" stroke-width="0.03">30</text>
<line x1="172.60000000000002" y1="352.62" x2="174.8" y2="352.62" stroke="#3c3c3c" stroke-width="1"/>
<text x="170.50" y="354.73" text-anchor="end" font-size="6.2" fill="#222" stroke="#222" stroke-width="0.03">40</text>
<line x1="172.60000000000002" y1="338.03" x2="174.8" y2="338.03" stroke="#3c3c3c" stroke-width="1"/>
<text x="170.50" y="340.13" text-anchor="end" font-size="6.2" fill="#222" stroke="#222" stroke-width="0.03">50</text>
<line x1="172.60000000000002" y1="323.44" x2="174.8" y2="323.44" stroke="#3c3c3c" stroke-width="1"/>
<text x="170.50" y="325.54" text-anchor="end" font-size="6.2" fill="#222" stroke="#222" stroke-width="0.03">60</text>
<line x1="172.60000000000002" y1="308.84" x2="174.8" y2="308.84" stroke="#3c3c3c" stroke-width="1"/>
<text x="170.50" y="310.94" text-anchor="end" font-size="6.2" fill="#222" stroke="#222" stroke-width="0.03">70</text>
<line x1="172.60000000000002" y1="294.25" x2="174.8" y2="294.25" stroke="#3c3c3c" stroke-width="1"/>
<text x="170.50" y="296.35" text-anchor="end" font-size="6.2" fill="#222" stroke="#222" stroke-width="0.03">80</text>
<text x="229.3" y="285.5" text-anchor="middle" font-size="7.6" fill="#111" stroke="#111" stroke-width="0.12">definitive RBC</text>
<circle cx="186.1" cy="328.6" r="2.0" fill="#111111" stroke="#111111" stroke-width="0.8" stroke-opacity="0.3"/>
<circle cx="188.9" cy="335" r="2.0" fill="#111111" stroke="#111111" stroke-width="0.8" stroke-opacity="0.3"/>
<circle cx="186.3" cy="337.2" r="2.0" fill="#111111" stroke="#111111" stroke-width="0.8" stroke-opacity="0.3"/>
<circle cx="181.1" cy="341.2" r="2.0" fill="#111111" stroke="#111111" stroke-width="0.8" stroke-opacity="0.3"/>
<circle cx="186.3" cy="343.7" r="2.0" fill="#111111" stroke="#111111" stroke-width="0.8" stroke-opacity="0.3"/>
<circle cx="183.6" cy="346.1" r="2.0" fill="#111111" stroke="#111111" stroke-width="0.8" stroke-opacity="0.3"/>
<circle cx="188.9" cy="349.3" r="2.0" fill="#111111" stroke="#111111" stroke-width="0.8" stroke-opacity="0.3"/>
<circle cx="186.1" cy="350.1" r="2.0" fill="#111111" stroke="#111111" stroke-width="0.8" stroke-opacity="0.3"/>
<line x1="184.6" y1="340.7" x2="189.6" y2="340.7" stroke="#111111" stroke-width="1.1" stroke-opacity="0.85"/>
<circle cx="197" cy="329.6" r="2.0" fill="#e2362a" stroke="#e2362a" stroke-width="0.8" stroke-opacity="0.3"/>
<circle cx="204.5" cy="329.3" r="2.0" fill="#e2362a" stroke="#e2362a" stroke-width="0.8" stroke-opacity="0.3"/>
<circle cx="202.1" cy="333.1" r="2.0" fill="#e2362a" stroke="#e2362a" stroke-width="0.8" stroke-opacity="0.3"/>
<circle cx="204.5" cy="337.7" r="2.0" fill="#e2362a" stroke="#e2362a" stroke-width="0.8" stroke-opacity="0.3"/>
<circle cx="202.1" cy="339.7" r="2.0" fill="#e2362a" stroke="#e2362a" stroke-width="0.8" stroke-opacity="0.3"/>
<circle cx="197" cy="342.4" r="2.0" fill="#e2362a" stroke="#e2362a" stroke-width="0.8" stroke-opacity="0.3"/>
<circle cx="202.1" cy="345.5" r="2.0" fill="#e2362a" stroke="#e2362a" stroke-width="0.8" stroke-opacity="0.3"/>
<circle cx="202.1" cy="350.8" r="2.0" fill="#e2362a" stroke="#e2362a" stroke-width="0.8" stroke-opacity="0.3"/>
<line x1="197.2" y1="337.7" x2="201.8" y2="337.7" stroke="#e2362a" stroke-width="1.1" stroke-opacity="0.7"/>
<circle cx="209.3" cy="367.8" r="2.0" fill="#1c24d8" stroke="#1c24d8" stroke-width="0.8" stroke-opacity="0.3"/>
<circle cx="214.3" cy="372.1" r="2.0" fill="#1c24d8" stroke="#1c24d8" stroke-width="0.8" stroke-opacity="0.3"/>
<circle cx="214.3" cy="382.6" r="2.0" fill="#1c24d8" stroke="#1c24d8" stroke-width="0.8" stroke-opacity="0.3"/>
<circle cx="209.3" cy="386.7" r="2.0" fill="#1c24d8" stroke="#1c24d8" stroke-width="0.8" stroke-opacity="0.3"/>
<circle cx="214.3" cy="388.5" r="2.0" fill="#1c24d8" stroke="#1c24d8" stroke-width="0.8" stroke-opacity="0.3"/>
<circle cx="214.3" cy="396.5" r="2.0" fill="#1c24d8" stroke="#1c24d8" stroke-width="0.8" stroke-opacity="0.3"/>
<line x1="209.1" y1="381.3" x2="215.2" y2="381.3" stroke="#1c24d8" stroke-width="1.1" stroke-opacity="0.7"/>
<circle cx="228.8" cy="346.1" r="2.0" fill="#ec8626" stroke="#ec8626" stroke-width="0.8" stroke-opacity="0.3"/>
<circle cx="228.8" cy="359.7" r="2.0" fill="#ec8626" stroke="#ec8626" stroke-width="0.8" stroke-opacity="0.3"/>
<circle cx="226.1" cy="367.5" r="2.0" fill="#ec8626" stroke="#ec8626" stroke-width="0.8" stroke-opacity="0.3"/>
<circle cx="228.8" cy="368.1" r="2.0" fill="#ec8626" stroke="#ec8626" stroke-width="0.8" stroke-opacity="0.3"/>
<circle cx="231.5" cy="368.1" r="2.0" fill="#ec8626" stroke="#ec8626" stroke-width="0.8" stroke-opacity="0.3"/>
<circle cx="223.7" cy="373.4" r="2.0" fill="#ec8626" stroke="#ec8626" stroke-width="0.8" stroke-opacity="0.3"/>
<circle cx="228.8" cy="374.1" r="2.0" fill="#ec8626" stroke="#ec8626" stroke-width="0.8" stroke-opacity="0.3"/>
<circle cx="228.8" cy="387" r="2.0" fill="#ec8626" stroke="#ec8626" stroke-width="0.8" stroke-opacity="0.3"/>
<circle cx="237.2" cy="341.5" r="2.0" fill="#84248e" stroke="#84248e" stroke-width="0.8" stroke-opacity="0.3"/>
<circle cx="242.2" cy="344.2" r="2.0" fill="#84248e" stroke="#84248e" stroke-width="0.8" stroke-opacity="0.3"/>
<circle cx="244.6" cy="349.9" r="2.0" fill="#84248e" stroke="#84248e" stroke-width="0.8" stroke-opacity="0.3"/>
<circle cx="242.2" cy="354.3" r="2.0" fill="#84248e" stroke="#84248e" stroke-width="0.8" stroke-opacity="0.3"/>
<circle cx="242.2" cy="359.7" r="2.0" fill="#84248e" stroke="#84248e" stroke-width="0.8" stroke-opacity="0.3"/>
<circle cx="242.2" cy="367.5" r="2.0" fill="#84248e" stroke="#84248e" stroke-width="0.8" stroke-opacity="0.3"/>
<line x1="236.9" y1="351.8" x2="242.4" y2="351.8" stroke="#84248e" stroke-width="1.1" stroke-opacity="0.7"/>
<circle cx="255.4" cy="325.9" r="2.0" fill="#188a24" stroke="#188a24" stroke-width="0.8" stroke-opacity="0.3"/>
<circle cx="252.6" cy="330.1" r="2.0" fill="#188a24" stroke="#188a24" stroke-width="0.8" stroke-opacity="0.3"/>
<circle cx="256.7" cy="329.6" r="2.0" fill="#188a24" stroke="#188a24" stroke-width="0.8" stroke-opacity="0.3"/>
<circle cx="258.7" cy="331.1" r="2.0" fill="#188a24" stroke="#188a24" stroke-width="0.8" stroke-opacity="0.3"/>
<circle cx="256.2" cy="332.6" r="2.0" fill="#188a24" stroke="#188a24" stroke-width="0.8" stroke-opacity="0.3"/>
<circle cx="258.2" cy="335" r="2.0" fill="#188a24" stroke="#188a24" stroke-width="0.8" stroke-opacity="0.3"/>
<circle cx="250.6" cy="337.4" r="2.0" fill="#188a24" stroke="#188a24" stroke-width="0.8" stroke-opacity="0.3"/>
<circle cx="255.4" cy="339.2" r="2.0" fill="#188a24" stroke="#188a24" stroke-width="0.8" stroke-opacity="0.3"/>
<circle cx="255.4" cy="348.8" r="2.0" fill="#188a24" stroke="#188a24" stroke-width="0.8" stroke-opacity="0.3"/>
<line x1="251" y1="333.1" x2="256" y2="333.1" stroke="#188a24" stroke-width="1.1" stroke-opacity="0.7"/>
<circle cx="270" cy="301.4" r="2.0" fill="#ec50e8" stroke="#ec50e8" stroke-width="0.8" stroke-opacity="0.3"/>
<circle cx="270.3" cy="307.5" r="2.0" fill="#ec50e8" stroke="#ec50e8" stroke-width="0.8" stroke-opacity="0.3"/>
<circle cx="267.2" cy="311.2" r="2.0" fill="#ec50e8" stroke="#ec50e8" stroke-width="0.8" stroke-opacity="0.3"/>
<circle cx="272.5" cy="312" r="2.0" fill="#ec50e8" stroke="#ec50e8" stroke-width="0.8" stroke-opacity="0.3"/>
<circle cx="265.1" cy="313.1" r="2.0" fill="#ec50e8" stroke="#ec50e8" stroke-width="0.8" stroke-opacity="0.3"/>
<circle cx="270" cy="314" r="2.0" fill="#ec50e8" stroke="#ec50e8" stroke-width="0.8" stroke-opacity="0.3"/>
<circle cx="267.6" cy="317.2" r="2.0" fill="#ec50e8" stroke="#ec50e8" stroke-width="0.8" stroke-opacity="0.3"/>
<circle cx="265.2" cy="322.3" r="2.0" fill="#ec50e8" stroke="#ec50e8" stroke-width="0.8" stroke-opacity="0.3"/>
<circle cx="270.3" cy="322.2" r="2.0" fill="#ec50e8" stroke="#ec50e8" stroke-width="0.8" stroke-opacity="0.3"/>
<circle cx="272.8" cy="321.6" r="2.0" fill="#ec50e8" stroke="#ec50e8" stroke-width="0.8" stroke-opacity="0.3"/>
<circle cx="270.2" cy="327.6" r="2.0" fill="#ec50e8" stroke="#ec50e8" stroke-width="0.8" stroke-opacity="0.3"/>
<circle cx="270.2" cy="333.7" r="2.0" fill="#ec50e8" stroke="#ec50e8" stroke-width="0.8" stroke-opacity="0.3"/>
<circle cx="282.1" cy="339.1" r="2.0" fill="#8a1414" stroke="#8a1414" stroke-width="0.8" stroke-opacity="0.3"/>
<circle cx="284.7" cy="355.6" r="2.0" fill="#8a1414" stroke="#8a1414" stroke-width="0.8" stroke-opacity="0.3"/>
<circle cx="282.4" cy="357.4" r="2.0" fill="#8a1414" stroke="#8a1414" stroke-width="0.8" stroke-opacity="0.3"/>
<circle cx="282.2" cy="369.6" r="2.0" fill="#8a1414" stroke="#8a1414" stroke-width="0.8" stroke-opacity="0.3"/>
<circle cx="279.7" cy="373" r="2.0" fill="#8a1414" stroke="#8a1414" stroke-width="0.8" stroke-opacity="0.3"/>
<circle cx="284.7" cy="373.2" r="2.0" fill="#8a1414" stroke="#8a1414" stroke-width="0.8" stroke-opacity="0.3"/>
<circle cx="282.1" cy="376.6" r="2.0" fill="#8a1414" stroke="#8a1414" stroke-width="0.8" stroke-opacity="0.3"/>
<line x1="277.5" y1="364.1" x2="285.2" y2="364.1" stroke="#8a1414" stroke-width="1.1" stroke-opacity="0.7"/>
<line x1="310.2" y1="291.5" x2="310.2" y2="410.5" stroke="#3c3c3c" stroke-width="1.3"/>
<line x1="309.59999999999997" y1="409.9" x2="430.5" y2="409.9" stroke="#3c3c3c" stroke-width="1.3"/>
<line x1="308.0" y1="409.90" x2="310.2" y2="409.90" stroke="#3c3c3c" stroke-width="1"/>
<text x="305.90" y="412.00" text-anchor="end" font-size="6.2" fill="#222" stroke="#222" stroke-width="0.03">0.0</text>
<line x1="308.0" y1="386.32" x2="310.2" y2="386.32" stroke="#3c3c3c" stroke-width="1"/>
<text x="305.90" y="388.42" text-anchor="end" font-size="6.2" fill="#222" stroke="#222" stroke-width="0.03">0.2</text>
<line x1="308.0" y1="362.74" x2="310.2" y2="362.74" stroke="#3c3c3c" stroke-width="1"/>
<text x="305.90" y="364.84" text-anchor="end" font-size="6.2" fill="#222" stroke="#222" stroke-width="0.03">0.4</text>
<line x1="308.0" y1="339.16" x2="310.2" y2="339.16" stroke="#3c3c3c" stroke-width="1"/>
<text x="305.90" y="341.26" text-anchor="end" font-size="6.2" fill="#222" stroke="#222" stroke-width="0.03">0.6</text>
<line x1="308.0" y1="315.58" x2="310.2" y2="315.58" stroke="#3c3c3c" stroke-width="1"/>
<text x="305.90" y="317.68" text-anchor="end" font-size="6.2" fill="#222" stroke="#222" stroke-width="0.03">0.8</text>
<line x1="308.0" y1="292.00" x2="310.2" y2="292.00" stroke="#3c3c3c" stroke-width="1"/>
<text x="305.90" y="294.10" text-anchor="end" font-size="6.2" fill="#222" stroke="#222" stroke-width="0.03">1.0</text>
<text x="368.1" y="284.8" text-anchor="middle" font-size="7.6" fill="#111" stroke="#111" stroke-width="0.12">platelets</text>
<circle cx="317.6" cy="331.3" r="2.0" fill="#111111" stroke="#111111" stroke-width="0.8" stroke-opacity="0.3"/>
<circle cx="320.1" cy="336.3" r="2.0" fill="#111111" stroke="#111111" stroke-width="0.8" stroke-opacity="0.3"/>
<circle cx="322.9" cy="336.3" r="2.0" fill="#111111" stroke="#111111" stroke-width="0.8" stroke-opacity="0.3"/>
<circle cx="320.1" cy="343" r="2.0" fill="#111111" stroke="#111111" stroke-width="0.8" stroke-opacity="0.3"/>
<circle cx="320.1" cy="359.9" r="2.0" fill="#111111" stroke="#111111" stroke-width="0.8" stroke-opacity="0.3"/>
<circle cx="320.1" cy="370.1" r="2.0" fill="#111111" stroke="#111111" stroke-width="0.8" stroke-opacity="0.3"/>
<circle cx="322.6" cy="375" r="2.0" fill="#111111" stroke="#111111" stroke-width="0.8" stroke-opacity="0.3"/>
<circle cx="320.1" cy="376.2" r="2.0" fill="#111111" stroke="#111111" stroke-width="0.8" stroke-opacity="0.3"/>
<line x1="315" y1="352.8" x2="322.9" y2="352.8" stroke="#111111" stroke-width="1.1" stroke-opacity="0.85"/>
<circle cx="335.7" cy="331.1" r="2.0" fill="#e2362a" stroke="#e2362a" stroke-width="0.8" stroke-opacity="0.3"/>
<circle cx="335.7" cy="351.1" r="2.0" fill="#e2362a" stroke="#e2362a" stroke-width="0.8" stroke-opacity="0.3"/>
<circle cx="335.7" cy="357.4" r="2.0" fill="#e2362a" stroke="#e2362a" stroke-width="0.8" stroke-opacity="0.3"/>
<circle cx="335.7" cy="365.3" r="2.0" fill="#e2362a" stroke="#e2362a" stroke-width="0.8" stroke-opacity="0.3"/>
<circle cx="338.3" cy="365.6" r="2.0" fill="#e2362a" stroke="#e2362a" stroke-width="0.8" stroke-opacity="0.3"/>
<circle cx="330.7" cy="374" r="2.0" fill="#e2362a" stroke="#e2362a" stroke-width="0.8" stroke-opacity="0.3"/>
<circle cx="335.7" cy="375" r="2.0" fill="#e2362a" stroke="#e2362a" stroke-width="0.8" stroke-opacity="0.3"/>
<circle cx="335.7" cy="381.8" r="2.0" fill="#e2362a" stroke="#e2362a" stroke-width="0.8" stroke-opacity="0.3"/>
<line x1="330.7" y1="361.5" x2="338.3" y2="361.5" stroke="#e2362a" stroke-width="1.1" stroke-opacity="0.7"/>
<circle cx="351.2" cy="329.3" r="2.0" fill="#1c24d8" stroke="#1c24d8" stroke-width="0.8" stroke-opacity="0.3"/>
<circle cx="351.2" cy="342" r="2.0" fill="#1c24d8" stroke="#1c24d8" stroke-width="0.8" stroke-opacity="0.3"/>
<circle cx="351.2" cy="358.3" r="2.0" fill="#1c24d8" stroke="#1c24d8" stroke-width="0.8" stroke-opacity="0.3"/>
<circle cx="346.2" cy="362" r="2.0" fill="#1c24d8" stroke="#1c24d8" stroke-width="0.8" stroke-opacity="0.3"/>
<circle cx="351.2" cy="365.3" r="2.0" fill="#1c24d8" stroke="#1c24d8" stroke-width="0.8" stroke-opacity="0.3"/>
<circle cx="351.2" cy="377.4" r="2.0" fill="#1c24d8" stroke="#1c24d8" stroke-width="0.8" stroke-opacity="0.3"/>
<line x1="346.9" y1="354.3" x2="354.4" y2="354.3" stroke="#1c24d8" stroke-width="1.1" stroke-opacity="0.7"/>
<circle cx="364.6" cy="346.7" r="2.0" fill="#ec8626" stroke="#ec8626" stroke-width="0.8" stroke-opacity="0.3"/>
<circle cx="359.5" cy="369.6" r="2.0" fill="#ec8626" stroke="#ec8626" stroke-width="0.8" stroke-opacity="0.3"/>
<circle cx="367.1" cy="368.9" r="2.0" fill="#ec8626" stroke="#ec8626" stroke-width="0.8" stroke-opacity="0.3"/>
<circle cx="364.6" cy="371.1" r="2.0" fill="#ec8626" stroke="#ec8626" stroke-width="0.8" stroke-opacity="0.3"/>
<circle cx="362.1" cy="374.7" r="2.0" fill="#ec8626" stroke="#ec8626" stroke-width="0.8" stroke-opacity="0.3"/>
<circle cx="366.9" cy="375" r="2.0" fill="#ec8626" stroke="#ec8626" stroke-width="0.8" stroke-opacity="0.3"/>
<circle cx="364.6" cy="378.7" r="2.0" fill="#ec8626" stroke="#ec8626" stroke-width="0.8" stroke-opacity="0.3"/>
<circle cx="376" cy="297.1" r="2.0" fill="#84248e" stroke="#84248e" stroke-width="0.8" stroke-opacity="0.3"/>
<circle cx="378.7" cy="305.2" r="2.0" fill="#84248e" stroke="#84248e" stroke-width="0.8" stroke-opacity="0.3"/>
<circle cx="371.2" cy="310.2" r="2.0" fill="#84248e" stroke="#84248e" stroke-width="0.8" stroke-opacity="0.3"/>
<circle cx="376.2" cy="310.2" r="2.0" fill="#84248e" stroke="#84248e" stroke-width="0.8" stroke-opacity="0.3"/>
<circle cx="378.7" cy="319.3" r="2.0" fill="#84248e" stroke="#84248e" stroke-width="0.8" stroke-opacity="0.3"/>
<circle cx="376" cy="323.3" r="2.0" fill="#84248e" stroke="#84248e" stroke-width="0.8" stroke-opacity="0.3"/>
<line x1="371" y1="310.6" x2="378" y2="310.6" stroke="#84248e" stroke-width="1.1" stroke-opacity="0.7"/>
<circle cx="386.3" cy="356.1" r="2.0" fill="#188a24" stroke="#188a24" stroke-width="0.8" stroke-opacity="0.3"/>
<circle cx="389.1" cy="354.3" r="2.0" fill="#188a24" stroke="#188a24" stroke-width="0.8" stroke-opacity="0.3"/>
<circle cx="388.8" cy="360.9" r="2.0" fill="#188a24" stroke="#188a24" stroke-width="0.8" stroke-opacity="0.3"/>
<circle cx="391.9" cy="359.4" r="2.0" fill="#188a24" stroke="#188a24" stroke-width="0.8" stroke-opacity="0.3"/>
<circle cx="388.8" cy="371.1" r="2.0" fill="#188a24" stroke="#188a24" stroke-width="0.8" stroke-opacity="0.3"/>
<circle cx="386.3" cy="385.3" r="2.0" fill="#188a24" stroke="#188a24" stroke-width="0.8" stroke-opacity="0.3"/>
<circle cx="390.9" cy="385.1" r="2.0" fill="#188a24" stroke="#188a24" stroke-width="0.8" stroke-opacity="0.3"/>
<circle cx="388.8" cy="387.3" r="2.0" fill="#188a24" stroke="#188a24" stroke-width="0.8" stroke-opacity="0.3"/>
<circle cx="388.8" cy="389.3" r="2.0" fill="#188a24" stroke="#188a24" stroke-width="0.8" stroke-opacity="0.3"/>
<line x1="384.3" y1="370.9" x2="391.4" y2="370.9" stroke="#188a24" stroke-width="1.1" stroke-opacity="0.7"/>
<circle cx="403.9" cy="299.3" r="2.0" fill="#ec50e8" stroke="#ec50e8" stroke-width="0.8" stroke-opacity="0.3"/>
<circle cx="403.9" cy="316.8" r="2.0" fill="#ec50e8" stroke="#ec50e8" stroke-width="0.8" stroke-opacity="0.3"/>
<circle cx="404.1" cy="346.1" r="2.0" fill="#ec50e8" stroke="#ec50e8" stroke-width="0.8" stroke-opacity="0.3"/>
<circle cx="406.7" cy="345.3" r="2.0" fill="#ec50e8" stroke="#ec50e8" stroke-width="0.8" stroke-opacity="0.3"/>
<circle cx="399.1" cy="353.7" r="2.0" fill="#ec50e8" stroke="#ec50e8" stroke-width="0.8" stroke-opacity="0.3"/>
<circle cx="404.1" cy="354.7" r="2.0" fill="#ec50e8" stroke="#ec50e8" stroke-width="0.8" stroke-opacity="0.3"/>
<circle cx="405.2" cy="359.4" r="2.0" fill="#ec50e8" stroke="#ec50e8" stroke-width="0.8" stroke-opacity="0.3"/>
<circle cx="401.3" cy="362.1" r="2.0" fill="#ec50e8" stroke="#ec50e8" stroke-width="0.8" stroke-opacity="0.3"/>
<circle cx="404.6" cy="361.8" r="2.0" fill="#ec50e8" stroke="#ec50e8" stroke-width="0.8" stroke-opacity="0.3"/>
<circle cx="407.2" cy="363.1" r="2.0" fill="#ec50e8" stroke="#ec50e8" stroke-width="0.8" stroke-opacity="0.3"/>
<circle cx="404.1" cy="370.1" r="2.0" fill="#ec50e8" stroke="#ec50e8" stroke-width="0.8" stroke-opacity="0.3"/>
<circle cx="404.1" cy="377.1" r="2.0" fill="#ec50e8" stroke="#ec50e8" stroke-width="0.8" stroke-opacity="0.3"/>
<line x1="399.1" y1="350.3" x2="406.7" y2="350.3" stroke="#ec50e8" stroke-width="1.1" stroke-opacity="0.7"/>
<circle cx="416.5" cy="361.8" r="2.0" fill="#8a1414" stroke="#8a1414" stroke-width="0.8" stroke-opacity="0.3"/>
<circle cx="421.1" cy="364.3" r="2.0" fill="#8a1414" stroke="#8a1414" stroke-width="0.8" stroke-opacity="0.3"/>
<circle cx="423.8" cy="369.8" r="2.0" fill="#8a1414" stroke="#8a1414" stroke-width="0.8" stroke-opacity="0.3"/>
<circle cx="421.1" cy="373" r="2.0" fill="#8a1414" stroke="#8a1414" stroke-width="0.8" stroke-opacity="0.3"/>
<circle cx="421.1" cy="383.2" r="2.0" fill="#8a1414" stroke="#8a1414" stroke-width="0.8" stroke-opacity="0.3"/>
<circle cx="418.8" cy="386.7" r="2.0" fill="#8a1414" stroke="#8a1414" stroke-width="0.8" stroke-opacity="0.3"/>
<circle cx="423.8" cy="389" r="2.0" fill="#8a1414" stroke="#8a1414" stroke-width="0.8" stroke-opacity="0.3"/>
<circle cx="421.1" cy="391.5" r="2.0" fill="#8a1414" stroke="#8a1414" stroke-width="0.8" stroke-opacity="0.3"/>
<line x1="416.4" y1="376.8" x2="423.8" y2="376.8" stroke="#8a1414" stroke-width="1.1" stroke-opacity="0.7"/>
<circle cx="466.6" cy="7.20" r="2.45" fill="#111111"/>
<text x="473.6" y="9.80" font-size="7.5" fill="#111" stroke="#111" stroke-width="0.2">C57BL/6J</text>
<circle cx="466.6" cy="17.74" r="2.45" fill="#e2362a"/>
<text x="473.6" y="20.34" font-size="7.5" fill="#111" stroke="#111" stroke-width="0.2">C57BL/10SnJ</text>
<circle cx="466.6" cy="28.28" r="2.45" fill="#1c24d8"/>
<text x="473.6" y="30.88" font-size="7.5" fill="#111" stroke="#111" stroke-width="0.2">C57L/J</text>
<circle cx="466.6" cy="38.82" r="2.45" fill="#ec8626"/>
<text x="473.6" y="41.42" font-size="7.5" fill="#111" stroke="#111" stroke-width="0.2">BALB/b</text>
<circle cx="466.6" cy="49.36" r="2.45" fill="#84248e"/>
<text x="473.6" y="51.96" font-size="7.5" fill="#111" stroke="#111" stroke-width="0.2">C3H/HeH</text>
<circle cx="466.6" cy="59.90" r="2.45" fill="#188a24"/>
<text x="473.6" y="62.50" font-size="7.5" fill="#111" stroke="#111" stroke-width="0.2">CBA/CaJ</text>
<circle cx="466.6" cy="70.44" r="2.45" fill="#ec50e8"/>
<text x="473.6" y="73.04" font-size="7.5" fill="#111" stroke="#111" stroke-width="0.2">FVB/NJ</text>
<circle cx="466.6" cy="80.98" r="2.45" fill="#8a1414"/>
<text x="473.6" y="83.58" font-size="7.5" fill="#111" stroke="#111" stroke-width="0.2">129/SvEv</text>
</svg></body></html>
